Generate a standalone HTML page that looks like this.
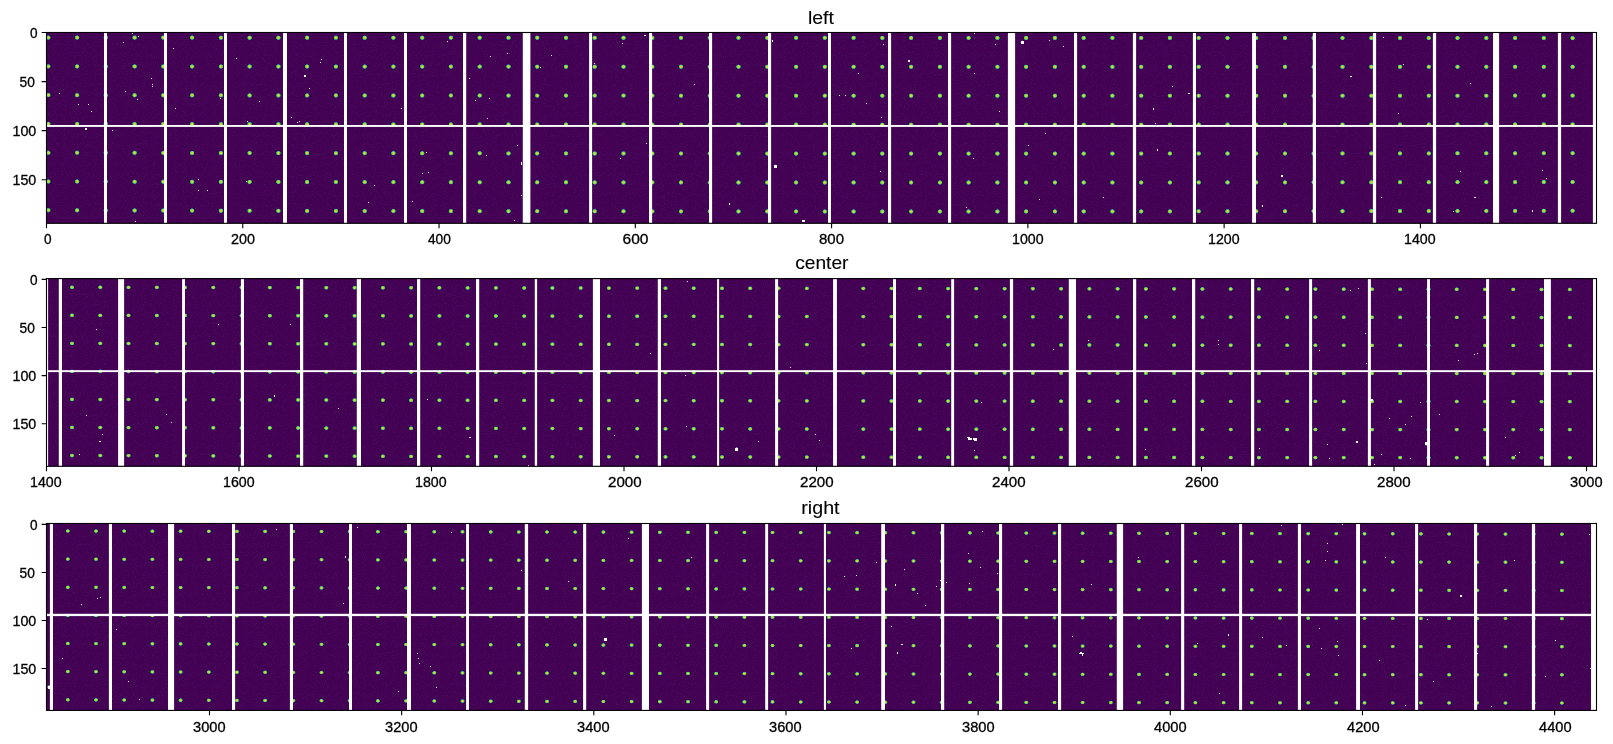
<!DOCTYPE html>
<html><head><meta charset="utf-8"><title>left center right</title>
<style>html,body{margin:0;padding:0;background:#fff;width:1613px;height:744px;overflow:hidden}svg{display:block;will-change:transform}</style>
</head><body>
<svg width="1613" height="744" viewBox="0 0 1613 744">
<defs>
<radialGradient id="dot" cx="0.5" cy="0.5" r="0.5">
<stop offset="0" stop-color="#dfe318"/>
<stop offset="0.35" stop-color="#c2df23"/>
<stop offset="0.6" stop-color="#6ccd5a"/>
<stop offset="0.8" stop-color="#1f9e89"/>
<stop offset="0.92" stop-color="#31688e" stop-opacity="0.7"/>
<stop offset="1" stop-color="#440154" stop-opacity="0"/>
</radialGradient>
<radialGradient id="blob" cx="0.5" cy="0.5" r="0.5">
<stop offset="0" stop-color="#ffffff"/>
<stop offset="0.45" stop-color="#ffffff"/>
<stop offset="0.7" stop-color="#9fd5e8"/>
<stop offset="1" stop-color="#3b528b" stop-opacity="0"/>
</radialGradient>
<filter id="nz" x="0" y="0" width="100%" height="100%" filterUnits="objectBoundingBox" color-interpolation-filters="sRGB">
<feTurbulence type="fractalNoise" baseFrequency="0.9" numOctaves="1" seed="7" result="t"/>
<feColorMatrix in="t" type="matrix" values="0 0 0 0 0.28  0 0 0 0 0.16  0 0 0 0 0.47  1.5 0 0 0 -0.8"/>
</filter>
</defs>
<rect width="1613" height="744" fill="#fff"/>
<rect x="46.5" y="32.5" width="1550.00" height="190.80" fill="#440154"/>
<rect x="46.5" y="32.5" width="1550.00" height="190.80" fill="#000" filter="url(#nz)"/>
<g fill="url(#dot)"><ellipse cx="48.3" cy="37.6" rx="2.6" ry="2.5"/><ellipse cx="77.1" cy="37.6" rx="2.6" ry="2.5"/><ellipse cx="105.8" cy="37.6" rx="2.6" ry="2.5"/><ellipse cx="134.6" cy="37.6" rx="2.6" ry="2.5"/><ellipse cx="163.3" cy="37.6" rx="2.6" ry="2.5"/><ellipse cx="192.1" cy="37.6" rx="2.6" ry="2.5"/><ellipse cx="220.9" cy="37.7" rx="2.6" ry="2.5"/><ellipse cx="249.6" cy="37.7" rx="2.6" ry="2.5"/><ellipse cx="278.4" cy="37.7" rx="2.6" ry="2.5"/><ellipse cx="307.1" cy="37.7" rx="2.6" ry="2.5"/><ellipse cx="335.9" cy="37.7" rx="2.6" ry="2.5"/><ellipse cx="364.7" cy="37.7" rx="2.6" ry="2.5"/><ellipse cx="393.4" cy="37.7" rx="2.6" ry="2.5"/><ellipse cx="422.2" cy="37.7" rx="2.6" ry="2.5"/><ellipse cx="450.9" cy="37.7" rx="2.6" ry="2.5"/><ellipse cx="479.7" cy="37.7" rx="2.6" ry="2.5"/><ellipse cx="508.5" cy="37.7" rx="2.6" ry="2.5"/><ellipse cx="537.2" cy="37.7" rx="2.6" ry="2.5"/><ellipse cx="566.0" cy="37.8" rx="2.6" ry="2.5"/><ellipse cx="594.7" cy="37.8" rx="2.6" ry="2.5"/><ellipse cx="623.5" cy="37.8" rx="2.6" ry="2.5"/><ellipse cx="652.3" cy="37.8" rx="2.6" ry="2.5"/><ellipse cx="681.0" cy="37.8" rx="2.6" ry="2.5"/><ellipse cx="709.8" cy="37.8" rx="2.6" ry="2.5"/><ellipse cx="738.5" cy="37.8" rx="2.6" ry="2.5"/><ellipse cx="767.3" cy="37.8" rx="2.6" ry="2.5"/><ellipse cx="796.1" cy="37.8" rx="2.6" ry="2.5"/><ellipse cx="824.8" cy="37.8" rx="2.6" ry="2.5"/><ellipse cx="853.6" cy="37.8" rx="2.6" ry="2.5"/><ellipse cx="882.3" cy="37.9" rx="2.6" ry="2.5"/><ellipse cx="911.1" cy="37.9" rx="2.6" ry="2.5"/><ellipse cx="939.9" cy="37.9" rx="2.6" ry="2.5"/><ellipse cx="968.6" cy="37.9" rx="2.6" ry="2.5"/><ellipse cx="997.4" cy="37.9" rx="2.6" ry="2.5"/><ellipse cx="1026.1" cy="37.9" rx="2.6" ry="2.5"/><ellipse cx="1054.9" cy="37.9" rx="2.6" ry="2.5"/><ellipse cx="1083.7" cy="37.9" rx="2.6" ry="2.5"/><ellipse cx="1112.4" cy="37.9" rx="2.6" ry="2.5"/><ellipse cx="1141.2" cy="37.9" rx="2.6" ry="2.5"/><ellipse cx="1169.9" cy="37.9" rx="2.6" ry="2.5"/><ellipse cx="1198.7" cy="37.9" rx="2.6" ry="2.5"/><ellipse cx="1227.5" cy="38.0" rx="2.6" ry="2.5"/><ellipse cx="1256.2" cy="38.0" rx="2.6" ry="2.5"/><ellipse cx="1285.0" cy="38.0" rx="2.6" ry="2.5"/><ellipse cx="1313.7" cy="38.0" rx="2.6" ry="2.5"/><ellipse cx="1342.5" cy="38.0" rx="2.6" ry="2.5"/><ellipse cx="1371.3" cy="38.0" rx="2.6" ry="2.5"/><ellipse cx="1400.0" cy="38.0" rx="2.6" ry="2.5"/><ellipse cx="1428.8" cy="38.0" rx="2.6" ry="2.5"/><ellipse cx="1457.5" cy="38.0" rx="2.6" ry="2.5"/><ellipse cx="1486.3" cy="38.0" rx="2.6" ry="2.5"/><ellipse cx="1515.1" cy="38.0" rx="2.6" ry="2.5"/><ellipse cx="1543.8" cy="38.0" rx="2.6" ry="2.5"/><ellipse cx="1572.6" cy="38.1" rx="2.6" ry="2.5"/><ellipse cx="48.3" cy="66.4" rx="2.6" ry="2.5"/><ellipse cx="77.1" cy="66.4" rx="2.6" ry="2.5"/><ellipse cx="105.8" cy="66.4" rx="2.6" ry="2.5"/><ellipse cx="134.6" cy="66.4" rx="2.6" ry="2.5"/><ellipse cx="163.3" cy="66.5" rx="2.6" ry="2.5"/><ellipse cx="192.1" cy="66.5" rx="2.6" ry="2.5"/><ellipse cx="220.9" cy="66.5" rx="2.6" ry="2.5"/><ellipse cx="249.6" cy="66.5" rx="2.6" ry="2.5"/><ellipse cx="278.4" cy="66.5" rx="2.6" ry="2.5"/><ellipse cx="307.1" cy="66.5" rx="2.6" ry="2.5"/><ellipse cx="335.9" cy="66.6" rx="2.6" ry="2.5"/><ellipse cx="364.7" cy="66.6" rx="2.6" ry="2.5"/><ellipse cx="393.4" cy="66.6" rx="2.6" ry="2.5"/><ellipse cx="422.2" cy="66.6" rx="2.6" ry="2.5"/><ellipse cx="450.9" cy="66.6" rx="2.6" ry="2.5"/><ellipse cx="479.7" cy="66.6" rx="2.6" ry="2.5"/><ellipse cx="508.5" cy="66.6" rx="2.6" ry="2.5"/><ellipse cx="537.2" cy="66.7" rx="2.6" ry="2.5"/><ellipse cx="566.0" cy="66.7" rx="2.6" ry="2.5"/><ellipse cx="594.7" cy="66.7" rx="2.6" ry="2.5"/><ellipse cx="623.5" cy="66.7" rx="2.6" ry="2.5"/><ellipse cx="652.3" cy="66.7" rx="2.6" ry="2.5"/><ellipse cx="681.0" cy="66.7" rx="2.6" ry="2.5"/><ellipse cx="709.8" cy="66.7" rx="2.6" ry="2.5"/><ellipse cx="738.5" cy="66.7" rx="2.6" ry="2.5"/><ellipse cx="767.3" cy="66.8" rx="2.6" ry="2.5"/><ellipse cx="796.1" cy="66.8" rx="2.6" ry="2.5"/><ellipse cx="824.8" cy="66.8" rx="2.6" ry="2.5"/><ellipse cx="853.6" cy="66.8" rx="2.6" ry="2.5"/><ellipse cx="882.3" cy="66.8" rx="2.6" ry="2.5"/><ellipse cx="911.1" cy="66.8" rx="2.6" ry="2.5"/><ellipse cx="939.9" cy="66.8" rx="2.6" ry="2.5"/><ellipse cx="968.6" cy="66.8" rx="2.6" ry="2.5"/><ellipse cx="997.4" cy="66.8" rx="2.6" ry="2.5"/><ellipse cx="1026.1" cy="66.8" rx="2.6" ry="2.5"/><ellipse cx="1054.9" cy="66.8" rx="2.6" ry="2.5"/><ellipse cx="1083.7" cy="66.8" rx="2.6" ry="2.5"/><ellipse cx="1112.4" cy="66.8" rx="2.6" ry="2.5"/><ellipse cx="1141.2" cy="66.8" rx="2.6" ry="2.5"/><ellipse cx="1169.9" cy="66.8" rx="2.6" ry="2.5"/><ellipse cx="1198.7" cy="66.8" rx="2.6" ry="2.5"/><ellipse cx="1227.5" cy="66.8" rx="2.6" ry="2.5"/><ellipse cx="1256.2" cy="66.8" rx="2.6" ry="2.5"/><ellipse cx="1285.0" cy="66.8" rx="2.6" ry="2.5"/><ellipse cx="1313.7" cy="66.8" rx="2.6" ry="2.5"/><ellipse cx="1342.5" cy="66.8" rx="2.6" ry="2.5"/><ellipse cx="1371.3" cy="66.8" rx="2.6" ry="2.5"/><ellipse cx="1400.0" cy="66.8" rx="2.6" ry="2.5"/><ellipse cx="1428.8" cy="66.8" rx="2.6" ry="2.5"/><ellipse cx="1457.5" cy="66.8" rx="2.6" ry="2.5"/><ellipse cx="1486.3" cy="66.8" rx="2.6" ry="2.5"/><ellipse cx="1515.1" cy="66.8" rx="2.6" ry="2.5"/><ellipse cx="1543.8" cy="66.8" rx="2.6" ry="2.5"/><ellipse cx="1572.6" cy="66.8" rx="2.6" ry="2.5"/><ellipse cx="48.3" cy="95.1" rx="2.6" ry="2.5"/><ellipse cx="77.1" cy="95.2" rx="2.6" ry="2.5"/><ellipse cx="105.8" cy="95.2" rx="2.6" ry="2.5"/><ellipse cx="134.6" cy="95.2" rx="2.6" ry="2.5"/><ellipse cx="163.3" cy="95.3" rx="2.6" ry="2.5"/><ellipse cx="192.1" cy="95.3" rx="2.6" ry="2.5"/><ellipse cx="220.9" cy="95.3" rx="2.6" ry="2.5"/><ellipse cx="249.6" cy="95.4" rx="2.6" ry="2.5"/><ellipse cx="278.4" cy="95.4" rx="2.6" ry="2.5"/><ellipse cx="307.1" cy="95.4" rx="2.6" ry="2.5"/><ellipse cx="335.9" cy="95.4" rx="2.6" ry="2.5"/><ellipse cx="364.7" cy="95.5" rx="2.6" ry="2.5"/><ellipse cx="393.4" cy="95.5" rx="2.6" ry="2.5"/><ellipse cx="422.2" cy="95.5" rx="2.6" ry="2.5"/><ellipse cx="450.9" cy="95.5" rx="2.6" ry="2.5"/><ellipse cx="479.7" cy="95.5" rx="2.6" ry="2.5"/><ellipse cx="508.5" cy="95.6" rx="2.6" ry="2.5"/><ellipse cx="537.2" cy="95.6" rx="2.6" ry="2.5"/><ellipse cx="566.0" cy="95.6" rx="2.6" ry="2.5"/><ellipse cx="594.7" cy="95.6" rx="2.6" ry="2.5"/><ellipse cx="623.5" cy="95.6" rx="2.6" ry="2.5"/><ellipse cx="652.3" cy="95.6" rx="2.6" ry="2.5"/><ellipse cx="681.0" cy="95.7" rx="2.6" ry="2.5"/><ellipse cx="709.8" cy="95.7" rx="2.6" ry="2.5"/><ellipse cx="738.5" cy="95.7" rx="2.6" ry="2.5"/><ellipse cx="767.3" cy="95.7" rx="2.6" ry="2.5"/><ellipse cx="796.1" cy="95.7" rx="2.6" ry="2.5"/><ellipse cx="824.8" cy="95.7" rx="2.6" ry="2.5"/><ellipse cx="853.6" cy="95.7" rx="2.6" ry="2.5"/><ellipse cx="882.3" cy="95.7" rx="2.6" ry="2.5"/><ellipse cx="911.1" cy="95.7" rx="2.6" ry="2.5"/><ellipse cx="939.9" cy="95.7" rx="2.6" ry="2.5"/><ellipse cx="968.6" cy="95.7" rx="2.6" ry="2.5"/><ellipse cx="997.4" cy="95.7" rx="2.6" ry="2.5"/><ellipse cx="1026.1" cy="95.7" rx="2.6" ry="2.5"/><ellipse cx="1054.9" cy="95.7" rx="2.6" ry="2.5"/><ellipse cx="1083.7" cy="95.7" rx="2.6" ry="2.5"/><ellipse cx="1112.4" cy="95.7" rx="2.6" ry="2.5"/><ellipse cx="1141.2" cy="95.7" rx="2.6" ry="2.5"/><ellipse cx="1169.9" cy="95.7" rx="2.6" ry="2.5"/><ellipse cx="1198.7" cy="95.7" rx="2.6" ry="2.5"/><ellipse cx="1227.5" cy="95.7" rx="2.6" ry="2.5"/><ellipse cx="1256.2" cy="95.7" rx="2.6" ry="2.5"/><ellipse cx="1285.0" cy="95.7" rx="2.6" ry="2.5"/><ellipse cx="1313.7" cy="95.7" rx="2.6" ry="2.5"/><ellipse cx="1342.5" cy="95.7" rx="2.6" ry="2.5"/><ellipse cx="1371.3" cy="95.7" rx="2.6" ry="2.5"/><ellipse cx="1400.0" cy="95.7" rx="2.6" ry="2.5"/><ellipse cx="1428.8" cy="95.7" rx="2.6" ry="2.5"/><ellipse cx="1457.5" cy="95.7" rx="2.6" ry="2.5"/><ellipse cx="1486.3" cy="95.7" rx="2.6" ry="2.5"/><ellipse cx="1515.1" cy="95.6" rx="2.6" ry="2.5"/><ellipse cx="1543.8" cy="95.6" rx="2.6" ry="2.5"/><ellipse cx="1572.6" cy="95.6" rx="2.6" ry="2.5"/><ellipse cx="48.3" cy="123.9" rx="2.6" ry="2.5"/><ellipse cx="77.1" cy="124.0" rx="2.6" ry="2.5"/><ellipse cx="105.8" cy="124.0" rx="2.6" ry="2.5"/><ellipse cx="134.6" cy="124.0" rx="2.6" ry="2.5"/><ellipse cx="163.3" cy="124.1" rx="2.6" ry="2.5"/><ellipse cx="192.1" cy="124.1" rx="2.6" ry="2.5"/><ellipse cx="220.9" cy="124.2" rx="2.6" ry="2.5"/><ellipse cx="249.6" cy="124.2" rx="2.6" ry="2.5"/><ellipse cx="278.4" cy="124.2" rx="2.6" ry="2.5"/><ellipse cx="307.1" cy="124.3" rx="2.6" ry="2.5"/><ellipse cx="335.9" cy="124.3" rx="2.6" ry="2.5"/><ellipse cx="364.7" cy="124.3" rx="2.6" ry="2.5"/><ellipse cx="393.4" cy="124.4" rx="2.6" ry="2.5"/><ellipse cx="422.2" cy="124.4" rx="2.6" ry="2.5"/><ellipse cx="450.9" cy="124.4" rx="2.6" ry="2.5"/><ellipse cx="479.7" cy="124.4" rx="2.6" ry="2.5"/><ellipse cx="508.5" cy="124.5" rx="2.6" ry="2.5"/><ellipse cx="537.2" cy="124.5" rx="2.6" ry="2.5"/><ellipse cx="566.0" cy="124.5" rx="2.6" ry="2.5"/><ellipse cx="594.7" cy="124.5" rx="2.6" ry="2.5"/><ellipse cx="623.5" cy="124.5" rx="2.6" ry="2.5"/><ellipse cx="652.3" cy="124.6" rx="2.6" ry="2.5"/><ellipse cx="681.0" cy="124.6" rx="2.6" ry="2.5"/><ellipse cx="709.8" cy="124.6" rx="2.6" ry="2.5"/><ellipse cx="738.5" cy="124.6" rx="2.6" ry="2.5"/><ellipse cx="767.3" cy="124.6" rx="2.6" ry="2.5"/><ellipse cx="796.1" cy="124.6" rx="2.6" ry="2.5"/><ellipse cx="824.8" cy="124.6" rx="2.6" ry="2.5"/><ellipse cx="853.6" cy="124.7" rx="2.6" ry="2.5"/><ellipse cx="882.3" cy="124.7" rx="2.6" ry="2.5"/><ellipse cx="911.1" cy="124.7" rx="2.6" ry="2.5"/><ellipse cx="939.9" cy="124.7" rx="2.6" ry="2.5"/><ellipse cx="968.6" cy="124.7" rx="2.6" ry="2.5"/><ellipse cx="997.4" cy="124.7" rx="2.6" ry="2.5"/><ellipse cx="1026.1" cy="124.7" rx="2.6" ry="2.5"/><ellipse cx="1054.9" cy="124.7" rx="2.6" ry="2.5"/><ellipse cx="1083.7" cy="124.7" rx="2.6" ry="2.5"/><ellipse cx="1112.4" cy="124.7" rx="2.6" ry="2.5"/><ellipse cx="1141.2" cy="124.7" rx="2.6" ry="2.5"/><ellipse cx="1169.9" cy="124.6" rx="2.6" ry="2.5"/><ellipse cx="1198.7" cy="124.6" rx="2.6" ry="2.5"/><ellipse cx="1227.5" cy="124.6" rx="2.6" ry="2.5"/><ellipse cx="1256.2" cy="124.6" rx="2.6" ry="2.5"/><ellipse cx="1285.0" cy="124.6" rx="2.6" ry="2.5"/><ellipse cx="1313.7" cy="124.6" rx="2.6" ry="2.5"/><ellipse cx="1342.5" cy="124.6" rx="2.6" ry="2.5"/><ellipse cx="1371.3" cy="124.6" rx="2.6" ry="2.5"/><ellipse cx="1400.0" cy="124.5" rx="2.6" ry="2.5"/><ellipse cx="1428.8" cy="124.5" rx="2.6" ry="2.5"/><ellipse cx="1457.5" cy="124.5" rx="2.6" ry="2.5"/><ellipse cx="1486.3" cy="124.5" rx="2.6" ry="2.5"/><ellipse cx="1515.1" cy="124.4" rx="2.6" ry="2.5"/><ellipse cx="1543.8" cy="124.4" rx="2.6" ry="2.5"/><ellipse cx="1572.6" cy="124.4" rx="2.6" ry="2.5"/><ellipse cx="48.3" cy="152.7" rx="2.6" ry="2.5"/><ellipse cx="77.1" cy="152.7" rx="2.6" ry="2.5"/><ellipse cx="105.8" cy="152.8" rx="2.6" ry="2.5"/><ellipse cx="134.6" cy="152.8" rx="2.6" ry="2.5"/><ellipse cx="163.3" cy="152.9" rx="2.6" ry="2.5"/><ellipse cx="192.1" cy="153.0" rx="2.6" ry="2.5"/><ellipse cx="220.9" cy="153.0" rx="2.6" ry="2.5"/><ellipse cx="249.6" cy="153.0" rx="2.6" ry="2.5"/><ellipse cx="278.4" cy="153.1" rx="2.6" ry="2.5"/><ellipse cx="307.1" cy="153.1" rx="2.6" ry="2.5"/><ellipse cx="335.9" cy="153.2" rx="2.6" ry="2.5"/><ellipse cx="364.7" cy="153.2" rx="2.6" ry="2.5"/><ellipse cx="393.4" cy="153.2" rx="2.6" ry="2.5"/><ellipse cx="422.2" cy="153.3" rx="2.6" ry="2.5"/><ellipse cx="450.9" cy="153.3" rx="2.6" ry="2.5"/><ellipse cx="479.7" cy="153.3" rx="2.6" ry="2.5"/><ellipse cx="508.5" cy="153.4" rx="2.6" ry="2.5"/><ellipse cx="537.2" cy="153.4" rx="2.6" ry="2.5"/><ellipse cx="566.0" cy="153.4" rx="2.6" ry="2.5"/><ellipse cx="594.7" cy="153.5" rx="2.6" ry="2.5"/><ellipse cx="623.5" cy="153.5" rx="2.6" ry="2.5"/><ellipse cx="652.3" cy="153.5" rx="2.6" ry="2.5"/><ellipse cx="681.0" cy="153.5" rx="2.6" ry="2.5"/><ellipse cx="709.8" cy="153.5" rx="2.6" ry="2.5"/><ellipse cx="738.5" cy="153.5" rx="2.6" ry="2.5"/><ellipse cx="767.3" cy="153.6" rx="2.6" ry="2.5"/><ellipse cx="796.1" cy="153.6" rx="2.6" ry="2.5"/><ellipse cx="824.8" cy="153.6" rx="2.6" ry="2.5"/><ellipse cx="853.6" cy="153.6" rx="2.6" ry="2.5"/><ellipse cx="882.3" cy="153.6" rx="2.6" ry="2.5"/><ellipse cx="911.1" cy="153.6" rx="2.6" ry="2.5"/><ellipse cx="939.9" cy="153.6" rx="2.6" ry="2.5"/><ellipse cx="968.6" cy="153.6" rx="2.6" ry="2.5"/><ellipse cx="997.4" cy="153.6" rx="2.6" ry="2.5"/><ellipse cx="1026.1" cy="153.6" rx="2.6" ry="2.5"/><ellipse cx="1054.9" cy="153.6" rx="2.6" ry="2.5"/><ellipse cx="1083.7" cy="153.6" rx="2.6" ry="2.5"/><ellipse cx="1112.4" cy="153.6" rx="2.6" ry="2.5"/><ellipse cx="1141.2" cy="153.6" rx="2.6" ry="2.5"/><ellipse cx="1169.9" cy="153.5" rx="2.6" ry="2.5"/><ellipse cx="1198.7" cy="153.5" rx="2.6" ry="2.5"/><ellipse cx="1227.5" cy="153.5" rx="2.6" ry="2.5"/><ellipse cx="1256.2" cy="153.5" rx="2.6" ry="2.5"/><ellipse cx="1285.0" cy="153.5" rx="2.6" ry="2.5"/><ellipse cx="1313.7" cy="153.5" rx="2.6" ry="2.5"/><ellipse cx="1342.5" cy="153.4" rx="2.6" ry="2.5"/><ellipse cx="1371.3" cy="153.4" rx="2.6" ry="2.5"/><ellipse cx="1400.0" cy="153.4" rx="2.6" ry="2.5"/><ellipse cx="1428.8" cy="153.4" rx="2.6" ry="2.5"/><ellipse cx="1457.5" cy="153.3" rx="2.6" ry="2.5"/><ellipse cx="1486.3" cy="153.3" rx="2.6" ry="2.5"/><ellipse cx="1515.1" cy="153.3" rx="2.6" ry="2.5"/><ellipse cx="1543.8" cy="153.2" rx="2.6" ry="2.5"/><ellipse cx="1572.6" cy="153.2" rx="2.6" ry="2.5"/><ellipse cx="48.3" cy="181.5" rx="2.6" ry="2.5"/><ellipse cx="77.1" cy="181.5" rx="2.6" ry="2.5"/><ellipse cx="105.8" cy="181.6" rx="2.6" ry="2.5"/><ellipse cx="134.6" cy="181.7" rx="2.6" ry="2.5"/><ellipse cx="163.3" cy="181.7" rx="2.6" ry="2.5"/><ellipse cx="192.1" cy="181.8" rx="2.6" ry="2.5"/><ellipse cx="220.9" cy="181.8" rx="2.6" ry="2.5"/><ellipse cx="249.6" cy="181.9" rx="2.6" ry="2.5"/><ellipse cx="278.4" cy="181.9" rx="2.6" ry="2.5"/><ellipse cx="307.1" cy="182.0" rx="2.6" ry="2.5"/><ellipse cx="335.9" cy="182.0" rx="2.6" ry="2.5"/><ellipse cx="364.7" cy="182.1" rx="2.6" ry="2.5"/><ellipse cx="393.4" cy="182.1" rx="2.6" ry="2.5"/><ellipse cx="422.2" cy="182.2" rx="2.6" ry="2.5"/><ellipse cx="450.9" cy="182.2" rx="2.6" ry="2.5"/><ellipse cx="479.7" cy="182.3" rx="2.6" ry="2.5"/><ellipse cx="508.5" cy="182.3" rx="2.6" ry="2.5"/><ellipse cx="537.2" cy="182.3" rx="2.6" ry="2.5"/><ellipse cx="566.0" cy="182.3" rx="2.6" ry="2.5"/><ellipse cx="594.7" cy="182.4" rx="2.6" ry="2.5"/><ellipse cx="623.5" cy="182.4" rx="2.6" ry="2.5"/><ellipse cx="652.3" cy="182.4" rx="2.6" ry="2.5"/><ellipse cx="681.0" cy="182.4" rx="2.6" ry="2.5"/><ellipse cx="709.8" cy="182.5" rx="2.6" ry="2.5"/><ellipse cx="738.5" cy="182.5" rx="2.6" ry="2.5"/><ellipse cx="767.3" cy="182.5" rx="2.6" ry="2.5"/><ellipse cx="796.1" cy="182.5" rx="2.6" ry="2.5"/><ellipse cx="824.8" cy="182.5" rx="2.6" ry="2.5"/><ellipse cx="853.6" cy="182.5" rx="2.6" ry="2.5"/><ellipse cx="882.3" cy="182.5" rx="2.6" ry="2.5"/><ellipse cx="911.1" cy="182.5" rx="2.6" ry="2.5"/><ellipse cx="939.9" cy="182.5" rx="2.6" ry="2.5"/><ellipse cx="968.6" cy="182.5" rx="2.6" ry="2.5"/><ellipse cx="997.4" cy="182.5" rx="2.6" ry="2.5"/><ellipse cx="1026.1" cy="182.5" rx="2.6" ry="2.5"/><ellipse cx="1054.9" cy="182.5" rx="2.6" ry="2.5"/><ellipse cx="1083.7" cy="182.5" rx="2.6" ry="2.5"/><ellipse cx="1112.4" cy="182.5" rx="2.6" ry="2.5"/><ellipse cx="1141.2" cy="182.5" rx="2.6" ry="2.5"/><ellipse cx="1169.9" cy="182.5" rx="2.6" ry="2.5"/><ellipse cx="1198.7" cy="182.4" rx="2.6" ry="2.5"/><ellipse cx="1227.5" cy="182.4" rx="2.6" ry="2.5"/><ellipse cx="1256.2" cy="182.4" rx="2.6" ry="2.5"/><ellipse cx="1285.0" cy="182.4" rx="2.6" ry="2.5"/><ellipse cx="1313.7" cy="182.3" rx="2.6" ry="2.5"/><ellipse cx="1342.5" cy="182.3" rx="2.6" ry="2.5"/><ellipse cx="1371.3" cy="182.3" rx="2.6" ry="2.5"/><ellipse cx="1400.0" cy="182.2" rx="2.6" ry="2.5"/><ellipse cx="1428.8" cy="182.2" rx="2.6" ry="2.5"/><ellipse cx="1457.5" cy="182.1" rx="2.6" ry="2.5"/><ellipse cx="1486.3" cy="182.1" rx="2.6" ry="2.5"/><ellipse cx="1515.1" cy="182.1" rx="2.6" ry="2.5"/><ellipse cx="1543.8" cy="182.0" rx="2.6" ry="2.5"/><ellipse cx="1572.6" cy="182.0" rx="2.6" ry="2.5"/><ellipse cx="48.3" cy="210.2" rx="2.6" ry="2.5"/><ellipse cx="77.1" cy="210.3" rx="2.6" ry="2.5"/><ellipse cx="105.8" cy="210.4" rx="2.6" ry="2.5"/><ellipse cx="134.6" cy="210.5" rx="2.6" ry="2.5"/><ellipse cx="163.3" cy="210.5" rx="2.6" ry="2.5"/><ellipse cx="192.1" cy="210.6" rx="2.6" ry="2.5"/><ellipse cx="220.9" cy="210.7" rx="2.6" ry="2.5"/><ellipse cx="249.6" cy="210.7" rx="2.6" ry="2.5"/><ellipse cx="278.4" cy="210.8" rx="2.6" ry="2.5"/><ellipse cx="307.1" cy="210.9" rx="2.6" ry="2.5"/><ellipse cx="335.9" cy="210.9" rx="2.6" ry="2.5"/><ellipse cx="364.7" cy="211.0" rx="2.6" ry="2.5"/><ellipse cx="393.4" cy="211.0" rx="2.6" ry="2.5"/><ellipse cx="422.2" cy="211.1" rx="2.6" ry="2.5"/><ellipse cx="450.9" cy="211.1" rx="2.6" ry="2.5"/><ellipse cx="479.7" cy="211.2" rx="2.6" ry="2.5"/><ellipse cx="508.5" cy="211.2" rx="2.6" ry="2.5"/><ellipse cx="537.2" cy="211.2" rx="2.6" ry="2.5"/><ellipse cx="566.0" cy="211.3" rx="2.6" ry="2.5"/><ellipse cx="594.7" cy="211.3" rx="2.6" ry="2.5"/><ellipse cx="623.5" cy="211.3" rx="2.6" ry="2.5"/><ellipse cx="652.3" cy="211.4" rx="2.6" ry="2.5"/><ellipse cx="681.0" cy="211.4" rx="2.6" ry="2.5"/><ellipse cx="709.8" cy="211.4" rx="2.6" ry="2.5"/><ellipse cx="738.5" cy="211.4" rx="2.6" ry="2.5"/><ellipse cx="767.3" cy="211.4" rx="2.6" ry="2.5"/><ellipse cx="796.1" cy="211.4" rx="2.6" ry="2.5"/><ellipse cx="824.8" cy="211.5" rx="2.6" ry="2.5"/><ellipse cx="853.6" cy="211.5" rx="2.6" ry="2.5"/><ellipse cx="882.3" cy="211.5" rx="2.6" ry="2.5"/><ellipse cx="911.1" cy="211.5" rx="2.6" ry="2.5"/><ellipse cx="939.9" cy="211.5" rx="2.6" ry="2.5"/><ellipse cx="968.6" cy="211.5" rx="2.6" ry="2.5"/><ellipse cx="997.4" cy="211.5" rx="2.6" ry="2.5"/><ellipse cx="1026.1" cy="211.4" rx="2.6" ry="2.5"/><ellipse cx="1054.9" cy="211.4" rx="2.6" ry="2.5"/><ellipse cx="1083.7" cy="211.4" rx="2.6" ry="2.5"/><ellipse cx="1112.4" cy="211.4" rx="2.6" ry="2.5"/><ellipse cx="1141.2" cy="211.4" rx="2.6" ry="2.5"/><ellipse cx="1169.9" cy="211.4" rx="2.6" ry="2.5"/><ellipse cx="1198.7" cy="211.3" rx="2.6" ry="2.5"/><ellipse cx="1227.5" cy="211.3" rx="2.6" ry="2.5"/><ellipse cx="1256.2" cy="211.3" rx="2.6" ry="2.5"/><ellipse cx="1285.0" cy="211.2" rx="2.6" ry="2.5"/><ellipse cx="1313.7" cy="211.2" rx="2.6" ry="2.5"/><ellipse cx="1342.5" cy="211.2" rx="2.6" ry="2.5"/><ellipse cx="1371.3" cy="211.1" rx="2.6" ry="2.5"/><ellipse cx="1400.0" cy="211.1" rx="2.6" ry="2.5"/><ellipse cx="1428.8" cy="211.0" rx="2.6" ry="2.5"/><ellipse cx="1457.5" cy="211.0" rx="2.6" ry="2.5"/><ellipse cx="1486.3" cy="210.9" rx="2.6" ry="2.5"/><ellipse cx="1515.1" cy="210.9" rx="2.6" ry="2.5"/><ellipse cx="1543.8" cy="210.8" rx="2.6" ry="2.5"/><ellipse cx="1572.6" cy="210.7" rx="2.6" ry="2.5"/></g>
<g fill="#fff"><rect x="59" y="93" width="1" height="1"/><rect x="78" y="104" width="1" height="1"/><rect x="88" y="104" width="1" height="1"/><rect x="91" y="111" width="1" height="1"/><rect x="85" y="128" width="2" height="2"/><rect x="112" y="130" width="1" height="1"/><rect x="123" y="42" width="1" height="1"/><rect x="132" y="33" width="1" height="1"/><rect x="138" y="36" width="1" height="1"/><rect x="125" y="91" width="1" height="1"/><rect x="137" y="99" width="1" height="1"/><rect x="151" y="78" width="1" height="1"/><rect x="152" y="84" width="1" height="1"/><rect x="152" y="86" width="1" height="1"/><rect x="173" y="48" width="1" height="1"/><rect x="175" y="108" width="1" height="1"/><rect x="220" y="98" width="1" height="1"/><rect x="236" y="58" width="1" height="1"/><rect x="259" y="101" width="1" height="1"/><rect x="247" y="121" width="1" height="1"/><rect x="198" y="179" width="1" height="1"/><rect x="198" y="190" width="1" height="1"/><rect x="207" y="190" width="1" height="1"/><rect x="246" y="181" width="1" height="1"/><rect x="135" y="221" width="1" height="1"/><rect x="304" y="75" width="2" height="2"/><rect x="309" y="88" width="1" height="1"/><rect x="321" y="59" width="1" height="1"/><rect x="320" y="62" width="1" height="1"/><rect x="291" y="117" width="1" height="1"/><rect x="297" y="122" width="1" height="1"/><rect x="299" y="121" width="1" height="1"/><rect x="401" y="108" width="1" height="1"/><rect x="426" y="152" width="1" height="1"/><rect x="422" y="173" width="1" height="1"/><rect x="428" y="172" width="1" height="1"/><rect x="374" y="185" width="1" height="1"/><rect x="368" y="202" width="1" height="1"/><rect x="412" y="201" width="1" height="1"/><rect x="447" y="41" width="1" height="1"/><rect x="490" y="56" width="1" height="1"/><rect x="507" y="53" width="1" height="1"/><rect x="469" y="78" width="1" height="1"/><rect x="475" y="100" width="1" height="1"/><rect x="489" y="98" width="1" height="1"/><rect x="487" y="118" width="1" height="1"/><rect x="551" y="55" width="1" height="1"/><rect x="540" y="67" width="1" height="1"/><rect x="644" y="35" width="2" height="1"/><rect x="622" y="43" width="1" height="1"/><rect x="594" y="63" width="1" height="1"/><rect x="694" y="84" width="1" height="1"/><rect x="772" y="40" width="1" height="2"/><rect x="517" y="145" width="1" height="1"/><rect x="486" y="155" width="1" height="1"/><rect x="521" y="162" width="1" height="3"/><rect x="521" y="195" width="1" height="1"/><rect x="514" y="220" width="1" height="1"/><rect x="646" y="143" width="1" height="1"/><rect x="620" y="158" width="1" height="1"/><rect x="729" y="203" width="1" height="2"/><circle cx="775.4" cy="166.2" r="2.0" fill="url(#blob)"/><rect x="774" y="165" width="3" height="3"/><rect x="802" y="220" width="3" height="2"/><rect x="883" y="44" width="1" height="1"/><rect x="858" y="73" width="1" height="1"/><rect x="839" y="95" width="1" height="1"/><rect x="845" y="95" width="1" height="1"/><rect x="866" y="103" width="1" height="1"/><rect x="881" y="117" width="1" height="1"/><rect x="908" y="60" width="2" height="2"/><rect x="974" y="33" width="1" height="1"/><rect x="995" y="44" width="1" height="1"/><rect x="974" y="73" width="1" height="1"/><rect x="999" y="111" width="1" height="1"/><circle cx="1022.2" cy="42.2" r="2.0" fill="url(#blob)"/><rect x="1021" y="41" width="3" height="3"/><rect x="1049" y="40" width="1" height="1"/><rect x="1063" y="46" width="1" height="1"/><rect x="1172" y="86" width="1" height="1"/><rect x="1188" y="93" width="2" height="1"/><rect x="1153" y="108" width="1" height="2"/><rect x="1155" y="123" width="1" height="1"/><rect x="1045" y="133" width="1" height="1"/><rect x="1028" y="145" width="1" height="1"/><rect x="880" y="171" width="1" height="1"/><rect x="973" y="158" width="1" height="1"/><rect x="966" y="207" width="1" height="1"/><rect x="1039" y="199" width="1" height="1"/><rect x="1103" y="197" width="1" height="1"/><rect x="1157" y="149" width="1" height="2"/><rect x="1383" y="37" width="1" height="1"/><rect x="1403" y="64" width="1" height="1"/><rect x="1350" y="76" width="2" height="1"/><rect x="1398" y="113" width="1" height="1"/><rect x="1470" y="83" width="1" height="1"/><rect x="1281" y="175" width="2" height="2"/><rect x="1262" y="205" width="1" height="2"/><rect x="1381" y="197" width="1" height="1"/><rect x="1460" y="171" width="1" height="1"/><rect x="1474" y="197" width="2" height="1"/><rect x="1453" y="211" width="1" height="1"/><rect x="1542" y="170" width="1" height="1"/><rect x="1546" y="178" width="1" height="1"/><rect x="1532" y="210" width="1" height="2"/></g>
<g fill="#fff"><rect x="104.0" y="32.5" width="3.0" height="190.8"/><rect x="164.0" y="32.5" width="3.0" height="190.8"/><rect x="224.0" y="32.5" width="3.0" height="190.8"/><rect x="283.0" y="32.5" width="4.0" height="190.8"/><rect x="344.0" y="32.5" width="3.0" height="190.8"/><rect x="404.0" y="32.5" width="3.0" height="190.8"/><rect x="463.0" y="32.5" width="3.2" height="190.8"/><rect x="522.8" y="32.5" width="7.6" height="190.8"/><rect x="589.1" y="32.5" width="3.0" height="190.8"/><rect x="649.0" y="32.5" width="3.1" height="190.8"/><rect x="709.0" y="32.5" width="3.1" height="190.8"/><rect x="768.0" y="32.5" width="3.1" height="190.8"/><rect x="828.0" y="32.5" width="3.0" height="190.8"/><rect x="888.0" y="32.5" width="3.1" height="190.8"/><rect x="948.0" y="32.5" width="3.1" height="190.8"/><rect x="1007.9" y="32.5" width="7.2" height="190.8"/><rect x="1074.0" y="32.5" width="3.1" height="190.8"/><rect x="1132.9" y="32.5" width="3.2" height="190.8"/><rect x="1192.9" y="32.5" width="3.1" height="190.8"/><rect x="1252.1" y="32.5" width="3.9" height="190.8"/><rect x="1312.8" y="32.5" width="3.2" height="190.8"/><rect x="1372.9" y="32.5" width="3.2" height="190.8"/><rect x="1432.9" y="32.5" width="3.2" height="190.8"/><rect x="1493.0" y="32.5" width="6.1" height="190.8"/><rect x="1557.9" y="32.5" width="3.2" height="190.8"/><rect x="1592.9" y="32.5" width="3.6" height="190.8"/><rect x="46.5" y="125.0" width="1550.0" height="1.9"/></g>
<rect x="46.5" y="32.5" width="1550.0" height="190.8" fill="none" stroke="#000" stroke-width="1.11"/>
<path d="M46.50 223.3v4.86M242.77 223.3v4.86M439.04 223.3v4.86M635.32 223.3v4.86M831.59 223.3v4.86M1027.86 223.3v4.86M1224.13 223.3v4.86M1420.40 223.3v4.86M46.5 32.50h-4.86M46.5 81.57h-4.86M46.5 130.64h-4.86M46.5 179.70h-4.86" stroke="#000" stroke-width="1.11" fill="none"/>
<g font-family="Liberation Sans, sans-serif" fill="#000" stroke="#000" stroke-width="0.3"><text x="44.00" y="244.00" font-size="14.10" textLength="7.56" lengthAdjust="spacingAndGlyphs">0</text><text x="231.00" y="244.00" font-size="14.10" textLength="23.93" lengthAdjust="spacingAndGlyphs">200</text><text x="428.00" y="244.00" font-size="14.10" textLength="22.85" lengthAdjust="spacingAndGlyphs">400</text><text x="622.50" y="244.00" font-size="14.10" textLength="25.96" lengthAdjust="spacingAndGlyphs">600</text><text x="819.00" y="244.00" font-size="14.10" textLength="25.00" lengthAdjust="spacingAndGlyphs">800</text><text x="1012.00" y="244.00" font-size="14.10" textLength="31.58" lengthAdjust="spacingAndGlyphs">1000</text><text x="1208.00" y="244.00" font-size="14.10" textLength="31.58" lengthAdjust="spacingAndGlyphs">1200</text><text x="1404.00" y="244.00" font-size="14.10" textLength="31.58" lengthAdjust="spacingAndGlyphs">1400</text><text x="30.00" y="38.00" font-size="14.10" textLength="7.56" lengthAdjust="spacingAndGlyphs">0</text><text x="19.50" y="87.00" font-size="14.10" textLength="15.32" lengthAdjust="spacingAndGlyphs">50</text><text x="12.50" y="136.00" font-size="14.10" textLength="23.81" lengthAdjust="spacingAndGlyphs">100</text><text x="12.50" y="185.00" font-size="14.10" textLength="23.81" lengthAdjust="spacingAndGlyphs">150</text></g>
<text x="807.90" y="24.00" textLength="26.00" lengthAdjust="spacingAndGlyphs" font-family="Liberation Sans, sans-serif" font-size="17.70" fill="#000" stroke="#000" stroke-width="0.1">left</text>
<rect x="46.5" y="278.6" width="1550.00" height="187.70" fill="#440154"/>
<rect x="46.5" y="278.6" width="1550.00" height="187.70" fill="#000" filter="url(#nz)"/>
<g fill="url(#dot)"><ellipse cx="72.0" cy="287.3" rx="2.5" ry="2.2"/><ellipse cx="100.3" cy="287.3" rx="2.5" ry="2.2"/><ellipse cx="128.5" cy="287.4" rx="2.5" ry="2.2"/><ellipse cx="156.8" cy="287.4" rx="2.5" ry="2.2"/><ellipse cx="185.0" cy="287.5" rx="2.5" ry="2.2"/><ellipse cx="213.3" cy="287.5" rx="2.5" ry="2.2"/><ellipse cx="241.6" cy="287.5" rx="2.5" ry="2.2"/><ellipse cx="269.8" cy="287.6" rx="2.5" ry="2.2"/><ellipse cx="298.1" cy="287.6" rx="2.5" ry="2.2"/><ellipse cx="326.3" cy="287.7" rx="2.5" ry="2.2"/><ellipse cx="354.6" cy="287.7" rx="2.5" ry="2.2"/><ellipse cx="382.9" cy="287.8" rx="2.5" ry="2.2"/><ellipse cx="411.1" cy="287.8" rx="2.5" ry="2.2"/><ellipse cx="439.4" cy="287.8" rx="2.5" ry="2.2"/><ellipse cx="467.6" cy="287.9" rx="2.5" ry="2.2"/><ellipse cx="495.9" cy="287.9" rx="2.5" ry="2.2"/><ellipse cx="524.2" cy="288.0" rx="2.5" ry="2.2"/><ellipse cx="552.4" cy="288.0" rx="2.5" ry="2.2"/><ellipse cx="580.7" cy="288.0" rx="2.5" ry="2.2"/><ellipse cx="608.9" cy="288.1" rx="2.5" ry="2.2"/><ellipse cx="637.2" cy="288.1" rx="2.5" ry="2.2"/><ellipse cx="665.5" cy="288.2" rx="2.5" ry="2.2"/><ellipse cx="693.7" cy="288.2" rx="2.5" ry="2.2"/><ellipse cx="722.0" cy="288.3" rx="2.5" ry="2.2"/><ellipse cx="750.2" cy="288.3" rx="2.5" ry="2.2"/><ellipse cx="778.5" cy="288.3" rx="2.5" ry="2.2"/><ellipse cx="806.8" cy="288.4" rx="2.5" ry="2.2"/><ellipse cx="835.0" cy="288.4" rx="2.5" ry="2.2"/><ellipse cx="863.3" cy="288.5" rx="2.5" ry="2.2"/><ellipse cx="891.5" cy="288.5" rx="2.5" ry="2.2"/><ellipse cx="919.8" cy="288.5" rx="2.5" ry="2.2"/><ellipse cx="948.1" cy="288.6" rx="2.5" ry="2.2"/><ellipse cx="976.3" cy="288.6" rx="2.5" ry="2.2"/><ellipse cx="1004.6" cy="288.7" rx="2.5" ry="2.2"/><ellipse cx="1032.8" cy="288.7" rx="2.5" ry="2.2"/><ellipse cx="1061.1" cy="288.8" rx="2.5" ry="2.2"/><ellipse cx="1089.4" cy="288.8" rx="2.5" ry="2.2"/><ellipse cx="1117.6" cy="288.8" rx="2.5" ry="2.2"/><ellipse cx="1145.9" cy="288.9" rx="2.5" ry="2.2"/><ellipse cx="1174.1" cy="288.9" rx="2.5" ry="2.2"/><ellipse cx="1202.4" cy="289.0" rx="2.5" ry="2.2"/><ellipse cx="1230.7" cy="289.0" rx="2.5" ry="2.2"/><ellipse cx="1258.9" cy="289.0" rx="2.5" ry="2.2"/><ellipse cx="1287.2" cy="289.1" rx="2.5" ry="2.2"/><ellipse cx="1315.4" cy="289.1" rx="2.5" ry="2.2"/><ellipse cx="1343.7" cy="289.2" rx="2.5" ry="2.2"/><ellipse cx="1372.0" cy="289.2" rx="2.5" ry="2.2"/><ellipse cx="1400.2" cy="289.3" rx="2.5" ry="2.2"/><ellipse cx="1428.5" cy="289.3" rx="2.5" ry="2.2"/><ellipse cx="1456.7" cy="289.3" rx="2.5" ry="2.2"/><ellipse cx="1485.0" cy="289.4" rx="2.5" ry="2.2"/><ellipse cx="1513.3" cy="289.4" rx="2.5" ry="2.2"/><ellipse cx="1541.5" cy="289.5" rx="2.5" ry="2.2"/><ellipse cx="1569.8" cy="289.5" rx="2.5" ry="2.2"/><ellipse cx="72.0" cy="315.3" rx="2.5" ry="2.2"/><ellipse cx="100.3" cy="315.4" rx="2.5" ry="2.2"/><ellipse cx="128.5" cy="315.4" rx="2.5" ry="2.2"/><ellipse cx="156.8" cy="315.5" rx="2.5" ry="2.2"/><ellipse cx="185.0" cy="315.5" rx="2.5" ry="2.2"/><ellipse cx="213.3" cy="315.6" rx="2.5" ry="2.2"/><ellipse cx="241.6" cy="315.6" rx="2.5" ry="2.2"/><ellipse cx="269.8" cy="315.7" rx="2.5" ry="2.2"/><ellipse cx="298.1" cy="315.7" rx="2.5" ry="2.2"/><ellipse cx="326.3" cy="315.8" rx="2.5" ry="2.2"/><ellipse cx="354.6" cy="315.8" rx="2.5" ry="2.2"/><ellipse cx="382.9" cy="315.8" rx="2.5" ry="2.2"/><ellipse cx="411.1" cy="315.9" rx="2.5" ry="2.2"/><ellipse cx="439.4" cy="315.9" rx="2.5" ry="2.2"/><ellipse cx="467.6" cy="316.0" rx="2.5" ry="2.2"/><ellipse cx="495.9" cy="316.0" rx="2.5" ry="2.2"/><ellipse cx="524.2" cy="316.1" rx="2.5" ry="2.2"/><ellipse cx="552.4" cy="316.1" rx="2.5" ry="2.2"/><ellipse cx="580.7" cy="316.2" rx="2.5" ry="2.2"/><ellipse cx="608.9" cy="316.2" rx="2.5" ry="2.2"/><ellipse cx="637.2" cy="316.2" rx="2.5" ry="2.2"/><ellipse cx="665.5" cy="316.3" rx="2.5" ry="2.2"/><ellipse cx="693.7" cy="316.3" rx="2.5" ry="2.2"/><ellipse cx="722.0" cy="316.4" rx="2.5" ry="2.2"/><ellipse cx="750.2" cy="316.4" rx="2.5" ry="2.2"/><ellipse cx="778.5" cy="316.5" rx="2.5" ry="2.2"/><ellipse cx="806.8" cy="316.5" rx="2.5" ry="2.2"/><ellipse cx="835.0" cy="316.5" rx="2.5" ry="2.2"/><ellipse cx="863.3" cy="316.6" rx="2.5" ry="2.2"/><ellipse cx="891.5" cy="316.6" rx="2.5" ry="2.2"/><ellipse cx="919.8" cy="316.7" rx="2.5" ry="2.2"/><ellipse cx="948.1" cy="316.7" rx="2.5" ry="2.2"/><ellipse cx="976.3" cy="316.7" rx="2.5" ry="2.2"/><ellipse cx="1004.6" cy="316.8" rx="2.5" ry="2.2"/><ellipse cx="1032.8" cy="316.8" rx="2.5" ry="2.2"/><ellipse cx="1061.1" cy="316.9" rx="2.5" ry="2.2"/><ellipse cx="1089.4" cy="316.9" rx="2.5" ry="2.2"/><ellipse cx="1117.6" cy="316.9" rx="2.5" ry="2.2"/><ellipse cx="1145.9" cy="317.0" rx="2.5" ry="2.2"/><ellipse cx="1174.1" cy="317.0" rx="2.5" ry="2.2"/><ellipse cx="1202.4" cy="317.1" rx="2.5" ry="2.2"/><ellipse cx="1230.7" cy="317.1" rx="2.5" ry="2.2"/><ellipse cx="1258.9" cy="317.1" rx="2.5" ry="2.2"/><ellipse cx="1287.2" cy="317.2" rx="2.5" ry="2.2"/><ellipse cx="1315.4" cy="317.2" rx="2.5" ry="2.2"/><ellipse cx="1343.7" cy="317.2" rx="2.5" ry="2.2"/><ellipse cx="1372.0" cy="317.3" rx="2.5" ry="2.2"/><ellipse cx="1400.2" cy="317.3" rx="2.5" ry="2.2"/><ellipse cx="1428.5" cy="317.4" rx="2.5" ry="2.2"/><ellipse cx="1456.7" cy="317.4" rx="2.5" ry="2.2"/><ellipse cx="1485.0" cy="317.4" rx="2.5" ry="2.2"/><ellipse cx="1513.3" cy="317.5" rx="2.5" ry="2.2"/><ellipse cx="1541.5" cy="317.5" rx="2.5" ry="2.2"/><ellipse cx="1569.8" cy="317.5" rx="2.5" ry="2.2"/><ellipse cx="72.0" cy="343.4" rx="2.5" ry="2.2"/><ellipse cx="100.3" cy="343.4" rx="2.5" ry="2.2"/><ellipse cx="128.5" cy="343.5" rx="2.5" ry="2.2"/><ellipse cx="156.8" cy="343.5" rx="2.5" ry="2.2"/><ellipse cx="185.0" cy="343.6" rx="2.5" ry="2.2"/><ellipse cx="213.3" cy="343.6" rx="2.5" ry="2.2"/><ellipse cx="241.6" cy="343.7" rx="2.5" ry="2.2"/><ellipse cx="269.8" cy="343.7" rx="2.5" ry="2.2"/><ellipse cx="298.1" cy="343.8" rx="2.5" ry="2.2"/><ellipse cx="326.3" cy="343.8" rx="2.5" ry="2.2"/><ellipse cx="354.6" cy="343.9" rx="2.5" ry="2.2"/><ellipse cx="382.9" cy="343.9" rx="2.5" ry="2.2"/><ellipse cx="411.1" cy="344.0" rx="2.5" ry="2.2"/><ellipse cx="439.4" cy="344.0" rx="2.5" ry="2.2"/><ellipse cx="467.6" cy="344.1" rx="2.5" ry="2.2"/><ellipse cx="495.9" cy="344.1" rx="2.5" ry="2.2"/><ellipse cx="524.2" cy="344.2" rx="2.5" ry="2.2"/><ellipse cx="552.4" cy="344.2" rx="2.5" ry="2.2"/><ellipse cx="580.7" cy="344.3" rx="2.5" ry="2.2"/><ellipse cx="608.9" cy="344.3" rx="2.5" ry="2.2"/><ellipse cx="637.2" cy="344.4" rx="2.5" ry="2.2"/><ellipse cx="665.5" cy="344.4" rx="2.5" ry="2.2"/><ellipse cx="693.7" cy="344.4" rx="2.5" ry="2.2"/><ellipse cx="722.0" cy="344.5" rx="2.5" ry="2.2"/><ellipse cx="750.2" cy="344.5" rx="2.5" ry="2.2"/><ellipse cx="778.5" cy="344.6" rx="2.5" ry="2.2"/><ellipse cx="806.8" cy="344.6" rx="2.5" ry="2.2"/><ellipse cx="835.0" cy="344.7" rx="2.5" ry="2.2"/><ellipse cx="863.3" cy="344.7" rx="2.5" ry="2.2"/><ellipse cx="891.5" cy="344.7" rx="2.5" ry="2.2"/><ellipse cx="919.8" cy="344.8" rx="2.5" ry="2.2"/><ellipse cx="948.1" cy="344.8" rx="2.5" ry="2.2"/><ellipse cx="976.3" cy="344.9" rx="2.5" ry="2.2"/><ellipse cx="1004.6" cy="344.9" rx="2.5" ry="2.2"/><ellipse cx="1032.8" cy="344.9" rx="2.5" ry="2.2"/><ellipse cx="1061.1" cy="345.0" rx="2.5" ry="2.2"/><ellipse cx="1089.4" cy="345.0" rx="2.5" ry="2.2"/><ellipse cx="1117.6" cy="345.0" rx="2.5" ry="2.2"/><ellipse cx="1145.9" cy="345.1" rx="2.5" ry="2.2"/><ellipse cx="1174.1" cy="345.1" rx="2.5" ry="2.2"/><ellipse cx="1202.4" cy="345.2" rx="2.5" ry="2.2"/><ellipse cx="1230.7" cy="345.2" rx="2.5" ry="2.2"/><ellipse cx="1258.9" cy="345.2" rx="2.5" ry="2.2"/><ellipse cx="1287.2" cy="345.3" rx="2.5" ry="2.2"/><ellipse cx="1315.4" cy="345.3" rx="2.5" ry="2.2"/><ellipse cx="1343.7" cy="345.3" rx="2.5" ry="2.2"/><ellipse cx="1372.0" cy="345.4" rx="2.5" ry="2.2"/><ellipse cx="1400.2" cy="345.4" rx="2.5" ry="2.2"/><ellipse cx="1428.5" cy="345.4" rx="2.5" ry="2.2"/><ellipse cx="1456.7" cy="345.4" rx="2.5" ry="2.2"/><ellipse cx="1485.0" cy="345.5" rx="2.5" ry="2.2"/><ellipse cx="1513.3" cy="345.5" rx="2.5" ry="2.2"/><ellipse cx="1541.5" cy="345.5" rx="2.5" ry="2.2"/><ellipse cx="1569.8" cy="345.6" rx="2.5" ry="2.2"/><ellipse cx="72.0" cy="371.4" rx="2.5" ry="2.2"/><ellipse cx="100.3" cy="371.4" rx="2.5" ry="2.2"/><ellipse cx="128.5" cy="371.5" rx="2.5" ry="2.2"/><ellipse cx="156.8" cy="371.6" rx="2.5" ry="2.2"/><ellipse cx="185.0" cy="371.6" rx="2.5" ry="2.2"/><ellipse cx="213.3" cy="371.7" rx="2.5" ry="2.2"/><ellipse cx="241.6" cy="371.7" rx="2.5" ry="2.2"/><ellipse cx="269.8" cy="371.8" rx="2.5" ry="2.2"/><ellipse cx="298.1" cy="371.9" rx="2.5" ry="2.2"/><ellipse cx="326.3" cy="371.9" rx="2.5" ry="2.2"/><ellipse cx="354.6" cy="372.0" rx="2.5" ry="2.2"/><ellipse cx="382.9" cy="372.0" rx="2.5" ry="2.2"/><ellipse cx="411.1" cy="372.1" rx="2.5" ry="2.2"/><ellipse cx="439.4" cy="372.1" rx="2.5" ry="2.2"/><ellipse cx="467.6" cy="372.2" rx="2.5" ry="2.2"/><ellipse cx="495.9" cy="372.2" rx="2.5" ry="2.2"/><ellipse cx="524.2" cy="372.3" rx="2.5" ry="2.2"/><ellipse cx="552.4" cy="372.3" rx="2.5" ry="2.2"/><ellipse cx="580.7" cy="372.4" rx="2.5" ry="2.2"/><ellipse cx="608.9" cy="372.4" rx="2.5" ry="2.2"/><ellipse cx="637.2" cy="372.5" rx="2.5" ry="2.2"/><ellipse cx="665.5" cy="372.5" rx="2.5" ry="2.2"/><ellipse cx="693.7" cy="372.6" rx="2.5" ry="2.2"/><ellipse cx="722.0" cy="372.6" rx="2.5" ry="2.2"/><ellipse cx="750.2" cy="372.7" rx="2.5" ry="2.2"/><ellipse cx="778.5" cy="372.7" rx="2.5" ry="2.2"/><ellipse cx="806.8" cy="372.7" rx="2.5" ry="2.2"/><ellipse cx="835.0" cy="372.8" rx="2.5" ry="2.2"/><ellipse cx="863.3" cy="372.8" rx="2.5" ry="2.2"/><ellipse cx="891.5" cy="372.9" rx="2.5" ry="2.2"/><ellipse cx="919.8" cy="372.9" rx="2.5" ry="2.2"/><ellipse cx="948.1" cy="372.9" rx="2.5" ry="2.2"/><ellipse cx="976.3" cy="373.0" rx="2.5" ry="2.2"/><ellipse cx="1004.6" cy="373.0" rx="2.5" ry="2.2"/><ellipse cx="1032.8" cy="373.1" rx="2.5" ry="2.2"/><ellipse cx="1061.1" cy="373.1" rx="2.5" ry="2.2"/><ellipse cx="1089.4" cy="373.1" rx="2.5" ry="2.2"/><ellipse cx="1117.6" cy="373.2" rx="2.5" ry="2.2"/><ellipse cx="1145.9" cy="373.2" rx="2.5" ry="2.2"/><ellipse cx="1174.1" cy="373.2" rx="2.5" ry="2.2"/><ellipse cx="1202.4" cy="373.2" rx="2.5" ry="2.2"/><ellipse cx="1230.7" cy="373.3" rx="2.5" ry="2.2"/><ellipse cx="1258.9" cy="373.3" rx="2.5" ry="2.2"/><ellipse cx="1287.2" cy="373.3" rx="2.5" ry="2.2"/><ellipse cx="1315.4" cy="373.4" rx="2.5" ry="2.2"/><ellipse cx="1343.7" cy="373.4" rx="2.5" ry="2.2"/><ellipse cx="1372.0" cy="373.4" rx="2.5" ry="2.2"/><ellipse cx="1400.2" cy="373.4" rx="2.5" ry="2.2"/><ellipse cx="1428.5" cy="373.5" rx="2.5" ry="2.2"/><ellipse cx="1456.7" cy="373.5" rx="2.5" ry="2.2"/><ellipse cx="1485.0" cy="373.5" rx="2.5" ry="2.2"/><ellipse cx="1513.3" cy="373.5" rx="2.5" ry="2.2"/><ellipse cx="1541.5" cy="373.6" rx="2.5" ry="2.2"/><ellipse cx="1569.8" cy="373.6" rx="2.5" ry="2.2"/><ellipse cx="72.0" cy="399.4" rx="2.5" ry="2.2"/><ellipse cx="100.3" cy="399.5" rx="2.5" ry="2.2"/><ellipse cx="128.5" cy="399.5" rx="2.5" ry="2.2"/><ellipse cx="156.8" cy="399.6" rx="2.5" ry="2.2"/><ellipse cx="185.0" cy="399.7" rx="2.5" ry="2.2"/><ellipse cx="213.3" cy="399.7" rx="2.5" ry="2.2"/><ellipse cx="241.6" cy="399.8" rx="2.5" ry="2.2"/><ellipse cx="269.8" cy="399.9" rx="2.5" ry="2.2"/><ellipse cx="298.1" cy="399.9" rx="2.5" ry="2.2"/><ellipse cx="326.3" cy="400.0" rx="2.5" ry="2.2"/><ellipse cx="354.6" cy="400.1" rx="2.5" ry="2.2"/><ellipse cx="382.9" cy="400.1" rx="2.5" ry="2.2"/><ellipse cx="411.1" cy="400.2" rx="2.5" ry="2.2"/><ellipse cx="439.4" cy="400.2" rx="2.5" ry="2.2"/><ellipse cx="467.6" cy="400.3" rx="2.5" ry="2.2"/><ellipse cx="495.9" cy="400.3" rx="2.5" ry="2.2"/><ellipse cx="524.2" cy="400.4" rx="2.5" ry="2.2"/><ellipse cx="552.4" cy="400.4" rx="2.5" ry="2.2"/><ellipse cx="580.7" cy="400.5" rx="2.5" ry="2.2"/><ellipse cx="608.9" cy="400.5" rx="2.5" ry="2.2"/><ellipse cx="637.2" cy="400.6" rx="2.5" ry="2.2"/><ellipse cx="665.5" cy="400.6" rx="2.5" ry="2.2"/><ellipse cx="693.7" cy="400.7" rx="2.5" ry="2.2"/><ellipse cx="722.0" cy="400.7" rx="2.5" ry="2.2"/><ellipse cx="750.2" cy="400.8" rx="2.5" ry="2.2"/><ellipse cx="778.5" cy="400.8" rx="2.5" ry="2.2"/><ellipse cx="806.8" cy="400.9" rx="2.5" ry="2.2"/><ellipse cx="835.0" cy="400.9" rx="2.5" ry="2.2"/><ellipse cx="863.3" cy="400.9" rx="2.5" ry="2.2"/><ellipse cx="891.5" cy="401.0" rx="2.5" ry="2.2"/><ellipse cx="919.8" cy="401.0" rx="2.5" ry="2.2"/><ellipse cx="948.1" cy="401.1" rx="2.5" ry="2.2"/><ellipse cx="976.3" cy="401.1" rx="2.5" ry="2.2"/><ellipse cx="1004.6" cy="401.1" rx="2.5" ry="2.2"/><ellipse cx="1032.8" cy="401.2" rx="2.5" ry="2.2"/><ellipse cx="1061.1" cy="401.2" rx="2.5" ry="2.2"/><ellipse cx="1089.4" cy="401.2" rx="2.5" ry="2.2"/><ellipse cx="1117.6" cy="401.3" rx="2.5" ry="2.2"/><ellipse cx="1145.9" cy="401.3" rx="2.5" ry="2.2"/><ellipse cx="1174.1" cy="401.3" rx="2.5" ry="2.2"/><ellipse cx="1202.4" cy="401.3" rx="2.5" ry="2.2"/><ellipse cx="1230.7" cy="401.4" rx="2.5" ry="2.2"/><ellipse cx="1258.9" cy="401.4" rx="2.5" ry="2.2"/><ellipse cx="1287.2" cy="401.4" rx="2.5" ry="2.2"/><ellipse cx="1315.4" cy="401.4" rx="2.5" ry="2.2"/><ellipse cx="1343.7" cy="401.5" rx="2.5" ry="2.2"/><ellipse cx="1372.0" cy="401.5" rx="2.5" ry="2.2"/><ellipse cx="1400.2" cy="401.5" rx="2.5" ry="2.2"/><ellipse cx="1428.5" cy="401.5" rx="2.5" ry="2.2"/><ellipse cx="1456.7" cy="401.5" rx="2.5" ry="2.2"/><ellipse cx="1485.0" cy="401.6" rx="2.5" ry="2.2"/><ellipse cx="1513.3" cy="401.6" rx="2.5" ry="2.2"/><ellipse cx="1541.5" cy="401.6" rx="2.5" ry="2.2"/><ellipse cx="1569.8" cy="401.6" rx="2.5" ry="2.2"/><ellipse cx="72.0" cy="427.4" rx="2.5" ry="2.2"/><ellipse cx="100.3" cy="427.5" rx="2.5" ry="2.2"/><ellipse cx="128.5" cy="427.6" rx="2.5" ry="2.2"/><ellipse cx="156.8" cy="427.7" rx="2.5" ry="2.2"/><ellipse cx="185.0" cy="427.7" rx="2.5" ry="2.2"/><ellipse cx="213.3" cy="427.8" rx="2.5" ry="2.2"/><ellipse cx="241.6" cy="427.9" rx="2.5" ry="2.2"/><ellipse cx="269.8" cy="427.9" rx="2.5" ry="2.2"/><ellipse cx="298.1" cy="428.0" rx="2.5" ry="2.2"/><ellipse cx="326.3" cy="428.1" rx="2.5" ry="2.2"/><ellipse cx="354.6" cy="428.1" rx="2.5" ry="2.2"/><ellipse cx="382.9" cy="428.2" rx="2.5" ry="2.2"/><ellipse cx="411.1" cy="428.3" rx="2.5" ry="2.2"/><ellipse cx="439.4" cy="428.3" rx="2.5" ry="2.2"/><ellipse cx="467.6" cy="428.4" rx="2.5" ry="2.2"/><ellipse cx="495.9" cy="428.4" rx="2.5" ry="2.2"/><ellipse cx="524.2" cy="428.5" rx="2.5" ry="2.2"/><ellipse cx="552.4" cy="428.5" rx="2.5" ry="2.2"/><ellipse cx="580.7" cy="428.6" rx="2.5" ry="2.2"/><ellipse cx="608.9" cy="428.7" rx="2.5" ry="2.2"/><ellipse cx="637.2" cy="428.7" rx="2.5" ry="2.2"/><ellipse cx="665.5" cy="428.8" rx="2.5" ry="2.2"/><ellipse cx="693.7" cy="428.8" rx="2.5" ry="2.2"/><ellipse cx="722.0" cy="428.8" rx="2.5" ry="2.2"/><ellipse cx="750.2" cy="428.9" rx="2.5" ry="2.2"/><ellipse cx="778.5" cy="428.9" rx="2.5" ry="2.2"/><ellipse cx="806.8" cy="429.0" rx="2.5" ry="2.2"/><ellipse cx="835.0" cy="429.0" rx="2.5" ry="2.2"/><ellipse cx="863.3" cy="429.1" rx="2.5" ry="2.2"/><ellipse cx="891.5" cy="429.1" rx="2.5" ry="2.2"/><ellipse cx="919.8" cy="429.1" rx="2.5" ry="2.2"/><ellipse cx="948.1" cy="429.2" rx="2.5" ry="2.2"/><ellipse cx="976.3" cy="429.2" rx="2.5" ry="2.2"/><ellipse cx="1004.6" cy="429.2" rx="2.5" ry="2.2"/><ellipse cx="1032.8" cy="429.3" rx="2.5" ry="2.2"/><ellipse cx="1061.1" cy="429.3" rx="2.5" ry="2.2"/><ellipse cx="1089.4" cy="429.3" rx="2.5" ry="2.2"/><ellipse cx="1117.6" cy="429.4" rx="2.5" ry="2.2"/><ellipse cx="1145.9" cy="429.4" rx="2.5" ry="2.2"/><ellipse cx="1174.1" cy="429.4" rx="2.5" ry="2.2"/><ellipse cx="1202.4" cy="429.4" rx="2.5" ry="2.2"/><ellipse cx="1230.7" cy="429.5" rx="2.5" ry="2.2"/><ellipse cx="1258.9" cy="429.5" rx="2.5" ry="2.2"/><ellipse cx="1287.2" cy="429.5" rx="2.5" ry="2.2"/><ellipse cx="1315.4" cy="429.5" rx="2.5" ry="2.2"/><ellipse cx="1343.7" cy="429.5" rx="2.5" ry="2.2"/><ellipse cx="1372.0" cy="429.6" rx="2.5" ry="2.2"/><ellipse cx="1400.2" cy="429.6" rx="2.5" ry="2.2"/><ellipse cx="1428.5" cy="429.6" rx="2.5" ry="2.2"/><ellipse cx="1456.7" cy="429.6" rx="2.5" ry="2.2"/><ellipse cx="1485.0" cy="429.6" rx="2.5" ry="2.2"/><ellipse cx="1513.3" cy="429.6" rx="2.5" ry="2.2"/><ellipse cx="1541.5" cy="429.6" rx="2.5" ry="2.2"/><ellipse cx="1569.8" cy="429.6" rx="2.5" ry="2.2"/><ellipse cx="72.0" cy="455.5" rx="2.5" ry="2.2"/><ellipse cx="100.3" cy="455.5" rx="2.5" ry="2.2"/><ellipse cx="128.5" cy="455.6" rx="2.5" ry="2.2"/><ellipse cx="156.8" cy="455.7" rx="2.5" ry="2.2"/><ellipse cx="185.0" cy="455.8" rx="2.5" ry="2.2"/><ellipse cx="213.3" cy="455.9" rx="2.5" ry="2.2"/><ellipse cx="241.6" cy="455.9" rx="2.5" ry="2.2"/><ellipse cx="269.8" cy="456.0" rx="2.5" ry="2.2"/><ellipse cx="298.1" cy="456.1" rx="2.5" ry="2.2"/><ellipse cx="326.3" cy="456.1" rx="2.5" ry="2.2"/><ellipse cx="354.6" cy="456.2" rx="2.5" ry="2.2"/><ellipse cx="382.9" cy="456.3" rx="2.5" ry="2.2"/><ellipse cx="411.1" cy="456.4" rx="2.5" ry="2.2"/><ellipse cx="439.4" cy="456.4" rx="2.5" ry="2.2"/><ellipse cx="467.6" cy="456.5" rx="2.5" ry="2.2"/><ellipse cx="495.9" cy="456.5" rx="2.5" ry="2.2"/><ellipse cx="524.2" cy="456.6" rx="2.5" ry="2.2"/><ellipse cx="552.4" cy="456.7" rx="2.5" ry="2.2"/><ellipse cx="580.7" cy="456.7" rx="2.5" ry="2.2"/><ellipse cx="608.9" cy="456.8" rx="2.5" ry="2.2"/><ellipse cx="637.2" cy="456.8" rx="2.5" ry="2.2"/><ellipse cx="665.5" cy="456.9" rx="2.5" ry="2.2"/><ellipse cx="693.7" cy="456.9" rx="2.5" ry="2.2"/><ellipse cx="722.0" cy="457.0" rx="2.5" ry="2.2"/><ellipse cx="750.2" cy="457.0" rx="2.5" ry="2.2"/><ellipse cx="778.5" cy="457.1" rx="2.5" ry="2.2"/><ellipse cx="806.8" cy="457.1" rx="2.5" ry="2.2"/><ellipse cx="835.0" cy="457.1" rx="2.5" ry="2.2"/><ellipse cx="863.3" cy="457.2" rx="2.5" ry="2.2"/><ellipse cx="891.5" cy="457.2" rx="2.5" ry="2.2"/><ellipse cx="919.8" cy="457.3" rx="2.5" ry="2.2"/><ellipse cx="948.1" cy="457.3" rx="2.5" ry="2.2"/><ellipse cx="976.3" cy="457.3" rx="2.5" ry="2.2"/><ellipse cx="1004.6" cy="457.4" rx="2.5" ry="2.2"/><ellipse cx="1032.8" cy="457.4" rx="2.5" ry="2.2"/><ellipse cx="1061.1" cy="457.4" rx="2.5" ry="2.2"/><ellipse cx="1089.4" cy="457.4" rx="2.5" ry="2.2"/><ellipse cx="1117.6" cy="457.5" rx="2.5" ry="2.2"/><ellipse cx="1145.9" cy="457.5" rx="2.5" ry="2.2"/><ellipse cx="1174.1" cy="457.5" rx="2.5" ry="2.2"/><ellipse cx="1202.4" cy="457.5" rx="2.5" ry="2.2"/><ellipse cx="1230.7" cy="457.6" rx="2.5" ry="2.2"/><ellipse cx="1258.9" cy="457.6" rx="2.5" ry="2.2"/><ellipse cx="1287.2" cy="457.6" rx="2.5" ry="2.2"/><ellipse cx="1315.4" cy="457.6" rx="2.5" ry="2.2"/><ellipse cx="1343.7" cy="457.6" rx="2.5" ry="2.2"/><ellipse cx="1372.0" cy="457.6" rx="2.5" ry="2.2"/><ellipse cx="1400.2" cy="457.6" rx="2.5" ry="2.2"/><ellipse cx="1428.5" cy="457.6" rx="2.5" ry="2.2"/><ellipse cx="1456.7" cy="457.7" rx="2.5" ry="2.2"/><ellipse cx="1485.0" cy="457.7" rx="2.5" ry="2.2"/><ellipse cx="1513.3" cy="457.7" rx="2.5" ry="2.2"/><ellipse cx="1541.5" cy="457.7" rx="2.5" ry="2.2"/><ellipse cx="1569.8" cy="457.7" rx="2.5" ry="2.2"/></g>
<g fill="#fff"><rect x="96" y="329" width="1" height="1"/><rect x="218" y="324" width="1" height="1"/><rect x="290" y="324" width="1" height="1"/><rect x="86" y="415" width="1" height="1"/><rect x="102" y="434" width="1" height="1"/><rect x="99" y="441" width="2" height="1"/><rect x="79" y="454" width="1" height="1"/><rect x="166" y="414" width="1" height="1"/><rect x="171" y="422" width="1" height="1"/><rect x="274" y="395" width="1" height="2"/><rect x="338" y="408" width="1" height="1"/><rect x="427" y="399" width="1" height="1"/><rect x="687" y="281" width="1" height="1"/><rect x="650" y="353" width="1" height="1"/><rect x="790" y="367" width="1" height="1"/><rect x="685" y="375" width="1" height="1"/><rect x="469" y="437" width="2" height="1"/><rect x="528" y="465" width="1" height="1"/><rect x="614" y="435" width="1" height="1"/><rect x="686" y="426" width="1" height="1"/><circle cx="736.7" cy="449.0" r="2.0" fill="url(#blob)"/><rect x="735" y="448" width="3" height="3"/><rect x="758" y="441" width="1" height="1"/><rect x="815" y="434" width="1" height="1"/><rect x="819" y="440" width="1" height="1"/><rect x="1053" y="349" width="1" height="1"/><rect x="1088" y="340" width="1" height="1"/><rect x="1218" y="340" width="1" height="1"/><rect x="1218" y="344" width="1" height="1"/><rect x="981" y="402" width="1" height="1"/><rect x="967" y="437" width="3" height="1"/><rect x="968" y="438" width="4" height="2"/><rect x="973" y="438" width="4" height="2"/><rect x="974" y="440" width="3" height="1"/><rect x="974" y="450" width="1" height="1"/><rect x="1145" y="449" width="1" height="1"/><rect x="1350" y="290" width="1" height="1"/><rect x="1358" y="288" width="1" height="1"/><rect x="1365" y="333" width="1" height="1"/><rect x="1319" y="350" width="1" height="1"/><rect x="1366" y="363" width="1" height="1"/><rect x="1474" y="354" width="1" height="1"/><rect x="1477" y="353" width="1" height="1"/><rect x="1458" y="360" width="1" height="1"/><rect x="1371" y="399" width="2" height="2"/><rect x="1420" y="402" width="1" height="1"/><rect x="1411" y="416" width="1" height="1"/><rect x="1389" y="418" width="1" height="1"/><rect x="1405" y="424" width="1" height="1"/><rect x="1439" y="414" width="1" height="1"/><rect x="1356" y="441" width="2" height="2"/><rect x="1327" y="444" width="1" height="1"/><rect x="1329" y="458" width="1" height="1"/><rect x="1259" y="448" width="1" height="1"/><rect x="1381" y="454" width="1" height="1"/><rect x="1410" y="458" width="1" height="1"/><rect x="1374" y="464" width="1" height="1"/><circle cx="1426.4" cy="443.9" r="2.0" fill="url(#blob)"/><rect x="1425" y="442" width="3" height="3"/><rect x="1505" y="437" width="1" height="1"/><rect x="1519" y="452" width="1" height="1"/><rect x="1515" y="455" width="1" height="1"/></g>
<g fill="#fff"><rect x="46.5" y="278.6" width="1.6" height="187.7"/><rect x="58.8" y="278.6" width="3.2" height="187.7"/><rect x="118.1" y="278.6" width="6.0" height="187.7"/><rect x="182.1" y="278.6" width="2.9" height="187.7"/><rect x="240.9" y="278.6" width="3.1" height="187.7"/><rect x="300.0" y="278.6" width="3.2" height="187.7"/><rect x="356.8" y="278.6" width="4.2" height="187.7"/><rect x="417.0" y="278.6" width="3.2" height="187.7"/><rect x="476.0" y="278.6" width="3.2" height="187.7"/><rect x="534.8" y="278.6" width="2.3" height="187.7"/><rect x="592.9" y="278.6" width="7.1" height="187.7"/><rect x="657.8" y="278.6" width="3.2" height="187.7"/><rect x="717.1" y="278.6" width="2.0" height="187.7"/><rect x="775.1" y="278.6" width="3.0" height="187.7"/><rect x="833.1" y="278.6" width="3.8" height="187.7"/><rect x="893.0" y="278.6" width="3.0" height="187.7"/><rect x="951.2" y="278.6" width="2.9" height="187.7"/><rect x="1009.9" y="278.6" width="3.2" height="187.7"/><rect x="1068.8" y="278.6" width="7.2" height="187.7"/><rect x="1133.0" y="278.6" width="3.2" height="187.7"/><rect x="1192.0" y="278.6" width="3.2" height="187.7"/><rect x="1251.0" y="278.6" width="3.2" height="187.7"/><rect x="1309.1" y="278.6" width="3.0" height="187.7"/><rect x="1367.9" y="278.6" width="3.0" height="187.7"/><rect x="1427.1" y="278.6" width="2.9" height="187.7"/><rect x="1486.1" y="278.6" width="3.0" height="187.7"/><rect x="1544.0" y="278.6" width="6.9" height="187.7"/><rect x="1593.0" y="278.6" width="3.5" height="187.7"/><rect x="46.5" y="370.2" width="1550.0" height="1.9"/></g>
<rect x="46.5" y="278.6" width="1550.0" height="187.7" fill="none" stroke="#000" stroke-width="1.11"/>
<path d="M46.50 466.3v4.86M239.00 466.3v4.86M431.50 466.3v4.86M624.00 466.3v4.86M816.50 466.3v4.86M1009.00 466.3v4.86M1201.50 466.3v4.86M1394.00 466.3v4.86M1586.50 466.3v4.86M46.5 279.40h-4.86M46.5 327.52h-4.86M46.5 375.65h-4.86M46.5 423.77h-4.86" stroke="#000" stroke-width="1.11" fill="none"/>
<g font-family="Liberation Sans, sans-serif" fill="#000" stroke="#000" stroke-width="0.3"><text x="30.00" y="487.00" font-size="14.10" textLength="31.58" lengthAdjust="spacingAndGlyphs">1400</text><text x="223.00" y="487.00" font-size="14.10" textLength="31.58" lengthAdjust="spacingAndGlyphs">1600</text><text x="415.00" y="487.00" font-size="14.10" textLength="31.58" lengthAdjust="spacingAndGlyphs">1800</text><text x="608.00" y="487.00" font-size="14.10" textLength="33.60" lengthAdjust="spacingAndGlyphs">2000</text><text x="800.00" y="487.00" font-size="14.10" textLength="33.60" lengthAdjust="spacingAndGlyphs">2200</text><text x="992.00" y="487.00" font-size="14.10" textLength="33.60" lengthAdjust="spacingAndGlyphs">2400</text><text x="1185.00" y="487.00" font-size="14.10" textLength="33.60" lengthAdjust="spacingAndGlyphs">2600</text><text x="1377.00" y="487.00" font-size="14.10" textLength="33.60" lengthAdjust="spacingAndGlyphs">2800</text><text x="1570.00" y="487.00" font-size="14.10" textLength="32.53" lengthAdjust="spacingAndGlyphs">3000</text><text x="30.00" y="285.00" font-size="14.10" textLength="7.56" lengthAdjust="spacingAndGlyphs">0</text><text x="19.50" y="333.00" font-size="14.10" textLength="15.32" lengthAdjust="spacingAndGlyphs">50</text><text x="12.50" y="381.00" font-size="14.10" textLength="23.81" lengthAdjust="spacingAndGlyphs">100</text><text x="12.50" y="429.00" font-size="14.10" textLength="23.81" lengthAdjust="spacingAndGlyphs">150</text></g>
<text x="795.20" y="269.40" textLength="53.33" lengthAdjust="spacingAndGlyphs" font-family="Liberation Sans, sans-serif" font-size="17.70" fill="#000" stroke="#000" stroke-width="0.1">center</text>
<rect x="46.5" y="523.5" width="1550.00" height="186.90" fill="#440154"/>
<rect x="46.5" y="523.5" width="1550.00" height="186.90" fill="#000" filter="url(#nz)"/>
<g fill="url(#dot)"><ellipse cx="67.8" cy="531.0" rx="2.4" ry="2.1"/><ellipse cx="96.0" cy="531.1" rx="2.4" ry="2.1"/><ellipse cx="124.2" cy="531.1" rx="2.4" ry="2.1"/><ellipse cx="152.4" cy="531.2" rx="2.4" ry="2.1"/><ellipse cx="180.6" cy="531.2" rx="2.4" ry="2.1"/><ellipse cx="208.8" cy="531.3" rx="2.4" ry="2.1"/><ellipse cx="236.9" cy="531.4" rx="2.4" ry="2.1"/><ellipse cx="265.1" cy="531.4" rx="2.4" ry="2.1"/><ellipse cx="293.3" cy="531.5" rx="2.4" ry="2.1"/><ellipse cx="321.5" cy="531.5" rx="2.4" ry="2.1"/><ellipse cx="349.7" cy="531.6" rx="2.4" ry="2.1"/><ellipse cx="377.9" cy="531.7" rx="2.4" ry="2.1"/><ellipse cx="406.1" cy="531.7" rx="2.4" ry="2.1"/><ellipse cx="434.3" cy="531.8" rx="2.4" ry="2.1"/><ellipse cx="462.5" cy="531.8" rx="2.4" ry="2.1"/><ellipse cx="490.7" cy="531.9" rx="2.4" ry="2.1"/><ellipse cx="518.8" cy="532.0" rx="2.4" ry="2.1"/><ellipse cx="547.0" cy="532.0" rx="2.4" ry="2.1"/><ellipse cx="575.2" cy="532.1" rx="2.4" ry="2.1"/><ellipse cx="603.4" cy="532.1" rx="2.4" ry="2.1"/><ellipse cx="631.6" cy="532.2" rx="2.4" ry="2.1"/><ellipse cx="659.8" cy="532.3" rx="2.4" ry="2.1"/><ellipse cx="688.0" cy="532.3" rx="2.4" ry="2.1"/><ellipse cx="716.2" cy="532.4" rx="2.4" ry="2.1"/><ellipse cx="744.4" cy="532.4" rx="2.4" ry="2.1"/><ellipse cx="772.5" cy="532.5" rx="2.4" ry="2.1"/><ellipse cx="800.7" cy="532.6" rx="2.4" ry="2.1"/><ellipse cx="828.9" cy="532.6" rx="2.4" ry="2.1"/><ellipse cx="857.1" cy="532.7" rx="2.4" ry="2.1"/><ellipse cx="885.3" cy="532.7" rx="2.4" ry="2.1"/><ellipse cx="913.5" cy="532.8" rx="2.4" ry="2.1"/><ellipse cx="941.7" cy="532.9" rx="2.4" ry="2.1"/><ellipse cx="969.9" cy="532.9" rx="2.4" ry="2.1"/><ellipse cx="998.1" cy="533.0" rx="2.4" ry="2.1"/><ellipse cx="1026.3" cy="533.1" rx="2.4" ry="2.1"/><ellipse cx="1054.5" cy="533.1" rx="2.4" ry="2.1"/><ellipse cx="1082.6" cy="533.2" rx="2.4" ry="2.1"/><ellipse cx="1110.8" cy="533.2" rx="2.4" ry="2.1"/><ellipse cx="1139.0" cy="533.3" rx="2.4" ry="2.1"/><ellipse cx="1167.2" cy="533.4" rx="2.4" ry="2.1"/><ellipse cx="1195.4" cy="533.4" rx="2.4" ry="2.1"/><ellipse cx="1223.6" cy="533.5" rx="2.4" ry="2.1"/><ellipse cx="1251.8" cy="533.5" rx="2.4" ry="2.1"/><ellipse cx="1280.0" cy="533.6" rx="2.4" ry="2.1"/><ellipse cx="1308.2" cy="533.7" rx="2.4" ry="2.1"/><ellipse cx="1336.3" cy="533.7" rx="2.4" ry="2.1"/><ellipse cx="1364.5" cy="533.8" rx="2.4" ry="2.1"/><ellipse cx="1392.7" cy="533.8" rx="2.4" ry="2.1"/><ellipse cx="1420.9" cy="533.9" rx="2.4" ry="2.1"/><ellipse cx="1449.1" cy="534.0" rx="2.4" ry="2.1"/><ellipse cx="1477.3" cy="534.0" rx="2.4" ry="2.1"/><ellipse cx="1505.5" cy="534.1" rx="2.4" ry="2.1"/><ellipse cx="1533.7" cy="534.1" rx="2.4" ry="2.1"/><ellipse cx="1561.9" cy="534.2" rx="2.4" ry="2.1"/><ellipse cx="67.8" cy="559.1" rx="2.4" ry="2.1"/><ellipse cx="96.0" cy="559.2" rx="2.4" ry="2.1"/><ellipse cx="124.2" cy="559.3" rx="2.4" ry="2.1"/><ellipse cx="152.4" cy="559.3" rx="2.4" ry="2.1"/><ellipse cx="180.6" cy="559.4" rx="2.4" ry="2.1"/><ellipse cx="208.8" cy="559.5" rx="2.4" ry="2.1"/><ellipse cx="236.9" cy="559.5" rx="2.4" ry="2.1"/><ellipse cx="265.1" cy="559.6" rx="2.4" ry="2.1"/><ellipse cx="293.3" cy="559.7" rx="2.4" ry="2.1"/><ellipse cx="321.5" cy="559.7" rx="2.4" ry="2.1"/><ellipse cx="349.7" cy="559.8" rx="2.4" ry="2.1"/><ellipse cx="377.9" cy="559.9" rx="2.4" ry="2.1"/><ellipse cx="406.1" cy="559.9" rx="2.4" ry="2.1"/><ellipse cx="434.3" cy="560.0" rx="2.4" ry="2.1"/><ellipse cx="462.5" cy="560.1" rx="2.4" ry="2.1"/><ellipse cx="490.7" cy="560.1" rx="2.4" ry="2.1"/><ellipse cx="518.8" cy="560.2" rx="2.4" ry="2.1"/><ellipse cx="547.0" cy="560.2" rx="2.4" ry="2.1"/><ellipse cx="575.2" cy="560.3" rx="2.4" ry="2.1"/><ellipse cx="603.4" cy="560.4" rx="2.4" ry="2.1"/><ellipse cx="631.6" cy="560.4" rx="2.4" ry="2.1"/><ellipse cx="659.8" cy="560.5" rx="2.4" ry="2.1"/><ellipse cx="688.0" cy="560.6" rx="2.4" ry="2.1"/><ellipse cx="716.2" cy="560.6" rx="2.4" ry="2.1"/><ellipse cx="744.4" cy="560.7" rx="2.4" ry="2.1"/><ellipse cx="772.5" cy="560.7" rx="2.4" ry="2.1"/><ellipse cx="800.7" cy="560.8" rx="2.4" ry="2.1"/><ellipse cx="828.9" cy="560.9" rx="2.4" ry="2.1"/><ellipse cx="857.1" cy="560.9" rx="2.4" ry="2.1"/><ellipse cx="885.3" cy="561.0" rx="2.4" ry="2.1"/><ellipse cx="913.5" cy="561.0" rx="2.4" ry="2.1"/><ellipse cx="941.7" cy="561.1" rx="2.4" ry="2.1"/><ellipse cx="969.9" cy="561.2" rx="2.4" ry="2.1"/><ellipse cx="998.1" cy="561.2" rx="2.4" ry="2.1"/><ellipse cx="1026.3" cy="561.3" rx="2.4" ry="2.1"/><ellipse cx="1054.5" cy="561.3" rx="2.4" ry="2.1"/><ellipse cx="1082.6" cy="561.4" rx="2.4" ry="2.1"/><ellipse cx="1110.8" cy="561.5" rx="2.4" ry="2.1"/><ellipse cx="1139.0" cy="561.5" rx="2.4" ry="2.1"/><ellipse cx="1167.2" cy="561.6" rx="2.4" ry="2.1"/><ellipse cx="1195.4" cy="561.6" rx="2.4" ry="2.1"/><ellipse cx="1223.6" cy="561.7" rx="2.4" ry="2.1"/><ellipse cx="1251.8" cy="561.7" rx="2.4" ry="2.1"/><ellipse cx="1280.0" cy="561.8" rx="2.4" ry="2.1"/><ellipse cx="1308.2" cy="561.8" rx="2.4" ry="2.1"/><ellipse cx="1336.3" cy="561.9" rx="2.4" ry="2.1"/><ellipse cx="1364.5" cy="562.0" rx="2.4" ry="2.1"/><ellipse cx="1392.7" cy="562.0" rx="2.4" ry="2.1"/><ellipse cx="1420.9" cy="562.1" rx="2.4" ry="2.1"/><ellipse cx="1449.1" cy="562.1" rx="2.4" ry="2.1"/><ellipse cx="1477.3" cy="562.2" rx="2.4" ry="2.1"/><ellipse cx="1505.5" cy="562.2" rx="2.4" ry="2.1"/><ellipse cx="1533.7" cy="562.3" rx="2.4" ry="2.1"/><ellipse cx="1561.9" cy="562.3" rx="2.4" ry="2.1"/><ellipse cx="67.8" cy="587.3" rx="2.4" ry="2.1"/><ellipse cx="96.0" cy="587.3" rx="2.4" ry="2.1"/><ellipse cx="124.2" cy="587.4" rx="2.4" ry="2.1"/><ellipse cx="152.4" cy="587.5" rx="2.4" ry="2.1"/><ellipse cx="180.6" cy="587.6" rx="2.4" ry="2.1"/><ellipse cx="208.8" cy="587.6" rx="2.4" ry="2.1"/><ellipse cx="236.9" cy="587.7" rx="2.4" ry="2.1"/><ellipse cx="265.1" cy="587.8" rx="2.4" ry="2.1"/><ellipse cx="293.3" cy="587.8" rx="2.4" ry="2.1"/><ellipse cx="321.5" cy="587.9" rx="2.4" ry="2.1"/><ellipse cx="349.7" cy="588.0" rx="2.4" ry="2.1"/><ellipse cx="377.9" cy="588.1" rx="2.4" ry="2.1"/><ellipse cx="406.1" cy="588.1" rx="2.4" ry="2.1"/><ellipse cx="434.3" cy="588.2" rx="2.4" ry="2.1"/><ellipse cx="462.5" cy="588.3" rx="2.4" ry="2.1"/><ellipse cx="490.7" cy="588.3" rx="2.4" ry="2.1"/><ellipse cx="518.8" cy="588.4" rx="2.4" ry="2.1"/><ellipse cx="547.0" cy="588.5" rx="2.4" ry="2.1"/><ellipse cx="575.2" cy="588.5" rx="2.4" ry="2.1"/><ellipse cx="603.4" cy="588.6" rx="2.4" ry="2.1"/><ellipse cx="631.6" cy="588.7" rx="2.4" ry="2.1"/><ellipse cx="659.8" cy="588.7" rx="2.4" ry="2.1"/><ellipse cx="688.0" cy="588.8" rx="2.4" ry="2.1"/><ellipse cx="716.2" cy="588.9" rx="2.4" ry="2.1"/><ellipse cx="744.4" cy="588.9" rx="2.4" ry="2.1"/><ellipse cx="772.5" cy="589.0" rx="2.4" ry="2.1"/><ellipse cx="800.7" cy="589.0" rx="2.4" ry="2.1"/><ellipse cx="828.9" cy="589.1" rx="2.4" ry="2.1"/><ellipse cx="857.1" cy="589.2" rx="2.4" ry="2.1"/><ellipse cx="885.3" cy="589.2" rx="2.4" ry="2.1"/><ellipse cx="913.5" cy="589.3" rx="2.4" ry="2.1"/><ellipse cx="941.7" cy="589.3" rx="2.4" ry="2.1"/><ellipse cx="969.9" cy="589.4" rx="2.4" ry="2.1"/><ellipse cx="998.1" cy="589.5" rx="2.4" ry="2.1"/><ellipse cx="1026.3" cy="589.5" rx="2.4" ry="2.1"/><ellipse cx="1054.5" cy="589.6" rx="2.4" ry="2.1"/><ellipse cx="1082.6" cy="589.6" rx="2.4" ry="2.1"/><ellipse cx="1110.8" cy="589.7" rx="2.4" ry="2.1"/><ellipse cx="1139.0" cy="589.7" rx="2.4" ry="2.1"/><ellipse cx="1167.2" cy="589.8" rx="2.4" ry="2.1"/><ellipse cx="1195.4" cy="589.8" rx="2.4" ry="2.1"/><ellipse cx="1223.6" cy="589.9" rx="2.4" ry="2.1"/><ellipse cx="1251.8" cy="589.9" rx="2.4" ry="2.1"/><ellipse cx="1280.0" cy="590.0" rx="2.4" ry="2.1"/><ellipse cx="1308.2" cy="590.0" rx="2.4" ry="2.1"/><ellipse cx="1336.3" cy="590.1" rx="2.4" ry="2.1"/><ellipse cx="1364.5" cy="590.1" rx="2.4" ry="2.1"/><ellipse cx="1392.7" cy="590.2" rx="2.4" ry="2.1"/><ellipse cx="1420.9" cy="590.2" rx="2.4" ry="2.1"/><ellipse cx="1449.1" cy="590.3" rx="2.4" ry="2.1"/><ellipse cx="1477.3" cy="590.3" rx="2.4" ry="2.1"/><ellipse cx="1505.5" cy="590.4" rx="2.4" ry="2.1"/><ellipse cx="1533.7" cy="590.4" rx="2.4" ry="2.1"/><ellipse cx="1561.9" cy="590.5" rx="2.4" ry="2.1"/><ellipse cx="67.8" cy="615.4" rx="2.4" ry="2.1"/><ellipse cx="96.0" cy="615.5" rx="2.4" ry="2.1"/><ellipse cx="124.2" cy="615.5" rx="2.4" ry="2.1"/><ellipse cx="152.4" cy="615.6" rx="2.4" ry="2.1"/><ellipse cx="180.6" cy="615.7" rx="2.4" ry="2.1"/><ellipse cx="208.8" cy="615.8" rx="2.4" ry="2.1"/><ellipse cx="236.9" cy="615.9" rx="2.4" ry="2.1"/><ellipse cx="265.1" cy="616.0" rx="2.4" ry="2.1"/><ellipse cx="293.3" cy="616.0" rx="2.4" ry="2.1"/><ellipse cx="321.5" cy="616.1" rx="2.4" ry="2.1"/><ellipse cx="349.7" cy="616.2" rx="2.4" ry="2.1"/><ellipse cx="377.9" cy="616.3" rx="2.4" ry="2.1"/><ellipse cx="406.1" cy="616.3" rx="2.4" ry="2.1"/><ellipse cx="434.3" cy="616.4" rx="2.4" ry="2.1"/><ellipse cx="462.5" cy="616.5" rx="2.4" ry="2.1"/><ellipse cx="490.7" cy="616.6" rx="2.4" ry="2.1"/><ellipse cx="518.8" cy="616.6" rx="2.4" ry="2.1"/><ellipse cx="547.0" cy="616.7" rx="2.4" ry="2.1"/><ellipse cx="575.2" cy="616.8" rx="2.4" ry="2.1"/><ellipse cx="603.4" cy="616.8" rx="2.4" ry="2.1"/><ellipse cx="631.6" cy="616.9" rx="2.4" ry="2.1"/><ellipse cx="659.8" cy="617.0" rx="2.4" ry="2.1"/><ellipse cx="688.0" cy="617.0" rx="2.4" ry="2.1"/><ellipse cx="716.2" cy="617.1" rx="2.4" ry="2.1"/><ellipse cx="744.4" cy="617.2" rx="2.4" ry="2.1"/><ellipse cx="772.5" cy="617.2" rx="2.4" ry="2.1"/><ellipse cx="800.7" cy="617.3" rx="2.4" ry="2.1"/><ellipse cx="828.9" cy="617.3" rx="2.4" ry="2.1"/><ellipse cx="857.1" cy="617.4" rx="2.4" ry="2.1"/><ellipse cx="885.3" cy="617.5" rx="2.4" ry="2.1"/><ellipse cx="913.5" cy="617.5" rx="2.4" ry="2.1"/><ellipse cx="941.7" cy="617.6" rx="2.4" ry="2.1"/><ellipse cx="969.9" cy="617.6" rx="2.4" ry="2.1"/><ellipse cx="998.1" cy="617.7" rx="2.4" ry="2.1"/><ellipse cx="1026.3" cy="617.7" rx="2.4" ry="2.1"/><ellipse cx="1054.5" cy="617.8" rx="2.4" ry="2.1"/><ellipse cx="1082.6" cy="617.8" rx="2.4" ry="2.1"/><ellipse cx="1110.8" cy="617.9" rx="2.4" ry="2.1"/><ellipse cx="1139.0" cy="617.9" rx="2.4" ry="2.1"/><ellipse cx="1167.2" cy="618.0" rx="2.4" ry="2.1"/><ellipse cx="1195.4" cy="618.0" rx="2.4" ry="2.1"/><ellipse cx="1223.6" cy="618.1" rx="2.4" ry="2.1"/><ellipse cx="1251.8" cy="618.1" rx="2.4" ry="2.1"/><ellipse cx="1280.0" cy="618.2" rx="2.4" ry="2.1"/><ellipse cx="1308.2" cy="618.2" rx="2.4" ry="2.1"/><ellipse cx="1336.3" cy="618.3" rx="2.4" ry="2.1"/><ellipse cx="1364.5" cy="618.3" rx="2.4" ry="2.1"/><ellipse cx="1392.7" cy="618.4" rx="2.4" ry="2.1"/><ellipse cx="1420.9" cy="618.4" rx="2.4" ry="2.1"/><ellipse cx="1449.1" cy="618.4" rx="2.4" ry="2.1"/><ellipse cx="1477.3" cy="618.5" rx="2.4" ry="2.1"/><ellipse cx="1505.5" cy="618.5" rx="2.4" ry="2.1"/><ellipse cx="1533.7" cy="618.6" rx="2.4" ry="2.1"/><ellipse cx="1561.9" cy="618.6" rx="2.4" ry="2.1"/><ellipse cx="67.8" cy="643.5" rx="2.4" ry="2.1"/><ellipse cx="96.0" cy="643.6" rx="2.4" ry="2.1"/><ellipse cx="124.2" cy="643.7" rx="2.4" ry="2.1"/><ellipse cx="152.4" cy="643.8" rx="2.4" ry="2.1"/><ellipse cx="180.6" cy="643.9" rx="2.4" ry="2.1"/><ellipse cx="208.8" cy="644.0" rx="2.4" ry="2.1"/><ellipse cx="236.9" cy="644.0" rx="2.4" ry="2.1"/><ellipse cx="265.1" cy="644.1" rx="2.4" ry="2.1"/><ellipse cx="293.3" cy="644.2" rx="2.4" ry="2.1"/><ellipse cx="321.5" cy="644.3" rx="2.4" ry="2.1"/><ellipse cx="349.7" cy="644.4" rx="2.4" ry="2.1"/><ellipse cx="377.9" cy="644.5" rx="2.4" ry="2.1"/><ellipse cx="406.1" cy="644.5" rx="2.4" ry="2.1"/><ellipse cx="434.3" cy="644.6" rx="2.4" ry="2.1"/><ellipse cx="462.5" cy="644.7" rx="2.4" ry="2.1"/><ellipse cx="490.7" cy="644.8" rx="2.4" ry="2.1"/><ellipse cx="518.8" cy="644.8" rx="2.4" ry="2.1"/><ellipse cx="547.0" cy="644.9" rx="2.4" ry="2.1"/><ellipse cx="575.2" cy="645.0" rx="2.4" ry="2.1"/><ellipse cx="603.4" cy="645.1" rx="2.4" ry="2.1"/><ellipse cx="631.6" cy="645.1" rx="2.4" ry="2.1"/><ellipse cx="659.8" cy="645.2" rx="2.4" ry="2.1"/><ellipse cx="688.0" cy="645.3" rx="2.4" ry="2.1"/><ellipse cx="716.2" cy="645.3" rx="2.4" ry="2.1"/><ellipse cx="744.4" cy="645.4" rx="2.4" ry="2.1"/><ellipse cx="772.5" cy="645.5" rx="2.4" ry="2.1"/><ellipse cx="800.7" cy="645.5" rx="2.4" ry="2.1"/><ellipse cx="828.9" cy="645.6" rx="2.4" ry="2.1"/><ellipse cx="857.1" cy="645.6" rx="2.4" ry="2.1"/><ellipse cx="885.3" cy="645.7" rx="2.4" ry="2.1"/><ellipse cx="913.5" cy="645.7" rx="2.4" ry="2.1"/><ellipse cx="941.7" cy="645.8" rx="2.4" ry="2.1"/><ellipse cx="969.9" cy="645.9" rx="2.4" ry="2.1"/><ellipse cx="998.1" cy="645.9" rx="2.4" ry="2.1"/><ellipse cx="1026.3" cy="646.0" rx="2.4" ry="2.1"/><ellipse cx="1054.5" cy="646.0" rx="2.4" ry="2.1"/><ellipse cx="1082.6" cy="646.1" rx="2.4" ry="2.1"/><ellipse cx="1110.8" cy="646.1" rx="2.4" ry="2.1"/><ellipse cx="1139.0" cy="646.2" rx="2.4" ry="2.1"/><ellipse cx="1167.2" cy="646.2" rx="2.4" ry="2.1"/><ellipse cx="1195.4" cy="646.3" rx="2.4" ry="2.1"/><ellipse cx="1223.6" cy="646.3" rx="2.4" ry="2.1"/><ellipse cx="1251.8" cy="646.3" rx="2.4" ry="2.1"/><ellipse cx="1280.0" cy="646.4" rx="2.4" ry="2.1"/><ellipse cx="1308.2" cy="646.4" rx="2.4" ry="2.1"/><ellipse cx="1336.3" cy="646.5" rx="2.4" ry="2.1"/><ellipse cx="1364.5" cy="646.5" rx="2.4" ry="2.1"/><ellipse cx="1392.7" cy="646.5" rx="2.4" ry="2.1"/><ellipse cx="1420.9" cy="646.6" rx="2.4" ry="2.1"/><ellipse cx="1449.1" cy="646.6" rx="2.4" ry="2.1"/><ellipse cx="1477.3" cy="646.6" rx="2.4" ry="2.1"/><ellipse cx="1505.5" cy="646.7" rx="2.4" ry="2.1"/><ellipse cx="1533.7" cy="646.7" rx="2.4" ry="2.1"/><ellipse cx="1561.9" cy="646.7" rx="2.4" ry="2.1"/><ellipse cx="67.8" cy="671.6" rx="2.4" ry="2.1"/><ellipse cx="96.0" cy="671.7" rx="2.4" ry="2.1"/><ellipse cx="124.2" cy="671.8" rx="2.4" ry="2.1"/><ellipse cx="152.4" cy="671.9" rx="2.4" ry="2.1"/><ellipse cx="180.6" cy="672.0" rx="2.4" ry="2.1"/><ellipse cx="208.8" cy="672.1" rx="2.4" ry="2.1"/><ellipse cx="236.9" cy="672.2" rx="2.4" ry="2.1"/><ellipse cx="265.1" cy="672.3" rx="2.4" ry="2.1"/><ellipse cx="293.3" cy="672.4" rx="2.4" ry="2.1"/><ellipse cx="321.5" cy="672.5" rx="2.4" ry="2.1"/><ellipse cx="349.7" cy="672.6" rx="2.4" ry="2.1"/><ellipse cx="377.9" cy="672.7" rx="2.4" ry="2.1"/><ellipse cx="406.1" cy="672.7" rx="2.4" ry="2.1"/><ellipse cx="434.3" cy="672.8" rx="2.4" ry="2.1"/><ellipse cx="462.5" cy="672.9" rx="2.4" ry="2.1"/><ellipse cx="490.7" cy="673.0" rx="2.4" ry="2.1"/><ellipse cx="518.8" cy="673.1" rx="2.4" ry="2.1"/><ellipse cx="547.0" cy="673.1" rx="2.4" ry="2.1"/><ellipse cx="575.2" cy="673.2" rx="2.4" ry="2.1"/><ellipse cx="603.4" cy="673.3" rx="2.4" ry="2.1"/><ellipse cx="631.6" cy="673.4" rx="2.4" ry="2.1"/><ellipse cx="659.8" cy="673.4" rx="2.4" ry="2.1"/><ellipse cx="688.0" cy="673.5" rx="2.4" ry="2.1"/><ellipse cx="716.2" cy="673.6" rx="2.4" ry="2.1"/><ellipse cx="744.4" cy="673.6" rx="2.4" ry="2.1"/><ellipse cx="772.5" cy="673.7" rx="2.4" ry="2.1"/><ellipse cx="800.7" cy="673.8" rx="2.4" ry="2.1"/><ellipse cx="828.9" cy="673.8" rx="2.4" ry="2.1"/><ellipse cx="857.1" cy="673.9" rx="2.4" ry="2.1"/><ellipse cx="885.3" cy="673.9" rx="2.4" ry="2.1"/><ellipse cx="913.5" cy="674.0" rx="2.4" ry="2.1"/><ellipse cx="941.7" cy="674.0" rx="2.4" ry="2.1"/><ellipse cx="969.9" cy="674.1" rx="2.4" ry="2.1"/><ellipse cx="998.1" cy="674.1" rx="2.4" ry="2.1"/><ellipse cx="1026.3" cy="674.2" rx="2.4" ry="2.1"/><ellipse cx="1054.5" cy="674.2" rx="2.4" ry="2.1"/><ellipse cx="1082.6" cy="674.3" rx="2.4" ry="2.1"/><ellipse cx="1110.8" cy="674.3" rx="2.4" ry="2.1"/><ellipse cx="1139.0" cy="674.4" rx="2.4" ry="2.1"/><ellipse cx="1167.2" cy="674.4" rx="2.4" ry="2.1"/><ellipse cx="1195.4" cy="674.5" rx="2.4" ry="2.1"/><ellipse cx="1223.6" cy="674.5" rx="2.4" ry="2.1"/><ellipse cx="1251.8" cy="674.5" rx="2.4" ry="2.1"/><ellipse cx="1280.0" cy="674.6" rx="2.4" ry="2.1"/><ellipse cx="1308.2" cy="674.6" rx="2.4" ry="2.1"/><ellipse cx="1336.3" cy="674.6" rx="2.4" ry="2.1"/><ellipse cx="1364.5" cy="674.7" rx="2.4" ry="2.1"/><ellipse cx="1392.7" cy="674.7" rx="2.4" ry="2.1"/><ellipse cx="1420.9" cy="674.7" rx="2.4" ry="2.1"/><ellipse cx="1449.1" cy="674.8" rx="2.4" ry="2.1"/><ellipse cx="1477.3" cy="674.8" rx="2.4" ry="2.1"/><ellipse cx="1505.5" cy="674.8" rx="2.4" ry="2.1"/><ellipse cx="1533.7" cy="674.8" rx="2.4" ry="2.1"/><ellipse cx="1561.9" cy="674.8" rx="2.4" ry="2.1"/><ellipse cx="67.8" cy="699.8" rx="2.4" ry="2.1"/><ellipse cx="96.0" cy="699.9" rx="2.4" ry="2.1"/><ellipse cx="124.2" cy="700.0" rx="2.4" ry="2.1"/><ellipse cx="152.4" cy="700.1" rx="2.4" ry="2.1"/><ellipse cx="180.6" cy="700.2" rx="2.4" ry="2.1"/><ellipse cx="208.8" cy="700.3" rx="2.4" ry="2.1"/><ellipse cx="236.9" cy="700.4" rx="2.4" ry="2.1"/><ellipse cx="265.1" cy="700.5" rx="2.4" ry="2.1"/><ellipse cx="293.3" cy="700.6" rx="2.4" ry="2.1"/><ellipse cx="321.5" cy="700.7" rx="2.4" ry="2.1"/><ellipse cx="349.7" cy="700.8" rx="2.4" ry="2.1"/><ellipse cx="377.9" cy="700.9" rx="2.4" ry="2.1"/><ellipse cx="406.1" cy="700.9" rx="2.4" ry="2.1"/><ellipse cx="434.3" cy="701.0" rx="2.4" ry="2.1"/><ellipse cx="462.5" cy="701.1" rx="2.4" ry="2.1"/><ellipse cx="490.7" cy="701.2" rx="2.4" ry="2.1"/><ellipse cx="518.8" cy="701.3" rx="2.4" ry="2.1"/><ellipse cx="547.0" cy="701.4" rx="2.4" ry="2.1"/><ellipse cx="575.2" cy="701.4" rx="2.4" ry="2.1"/><ellipse cx="603.4" cy="701.5" rx="2.4" ry="2.1"/><ellipse cx="631.6" cy="701.6" rx="2.4" ry="2.1"/><ellipse cx="659.8" cy="701.7" rx="2.4" ry="2.1"/><ellipse cx="688.0" cy="701.7" rx="2.4" ry="2.1"/><ellipse cx="716.2" cy="701.8" rx="2.4" ry="2.1"/><ellipse cx="744.4" cy="701.9" rx="2.4" ry="2.1"/><ellipse cx="772.5" cy="701.9" rx="2.4" ry="2.1"/><ellipse cx="800.7" cy="702.0" rx="2.4" ry="2.1"/><ellipse cx="828.9" cy="702.0" rx="2.4" ry="2.1"/><ellipse cx="857.1" cy="702.1" rx="2.4" ry="2.1"/><ellipse cx="885.3" cy="702.2" rx="2.4" ry="2.1"/><ellipse cx="913.5" cy="702.2" rx="2.4" ry="2.1"/><ellipse cx="941.7" cy="702.3" rx="2.4" ry="2.1"/><ellipse cx="969.9" cy="702.3" rx="2.4" ry="2.1"/><ellipse cx="998.1" cy="702.4" rx="2.4" ry="2.1"/><ellipse cx="1026.3" cy="702.4" rx="2.4" ry="2.1"/><ellipse cx="1054.5" cy="702.5" rx="2.4" ry="2.1"/><ellipse cx="1082.6" cy="702.5" rx="2.4" ry="2.1"/><ellipse cx="1110.8" cy="702.6" rx="2.4" ry="2.1"/><ellipse cx="1139.0" cy="702.6" rx="2.4" ry="2.1"/><ellipse cx="1167.2" cy="702.6" rx="2.4" ry="2.1"/><ellipse cx="1195.4" cy="702.7" rx="2.4" ry="2.1"/><ellipse cx="1223.6" cy="702.7" rx="2.4" ry="2.1"/><ellipse cx="1251.8" cy="702.7" rx="2.4" ry="2.1"/><ellipse cx="1280.0" cy="702.8" rx="2.4" ry="2.1"/><ellipse cx="1308.2" cy="702.8" rx="2.4" ry="2.1"/><ellipse cx="1336.3" cy="702.8" rx="2.4" ry="2.1"/><ellipse cx="1364.5" cy="702.9" rx="2.4" ry="2.1"/><ellipse cx="1392.7" cy="702.9" rx="2.4" ry="2.1"/><ellipse cx="1420.9" cy="702.9" rx="2.4" ry="2.1"/><ellipse cx="1449.1" cy="702.9" rx="2.4" ry="2.1"/><ellipse cx="1477.3" cy="702.9" rx="2.4" ry="2.1"/><ellipse cx="1505.5" cy="703.0" rx="2.4" ry="2.1"/><ellipse cx="1533.7" cy="703.0" rx="2.4" ry="2.1"/><ellipse cx="1561.9" cy="703.0" rx="2.4" ry="2.1"/></g>
<g fill="#fff"><rect x="276" y="529" width="1" height="1"/><rect x="357" y="527" width="1" height="1"/><rect x="345" y="556" width="1" height="2"/><rect x="81" y="604" width="1" height="1"/><rect x="97" y="598" width="1" height="1"/><rect x="100" y="597" width="1" height="1"/><rect x="343" y="603" width="1" height="1"/><rect x="116" y="629" width="1" height="1"/><rect x="62" y="658" width="1" height="1"/><rect x="128" y="681" width="1" height="1"/><rect x="139" y="699" width="1" height="1"/><circle cx="49.0" cy="687.0" r="2.0" fill="url(#blob)"/><rect x="48" y="686" width="3" height="3"/><rect x="417" y="653" width="1" height="1"/><rect x="418" y="658" width="1" height="1"/><rect x="419" y="663" width="1" height="1"/><rect x="430" y="666" width="1" height="1"/><rect x="436" y="687" width="1" height="1"/><rect x="398" y="691" width="1" height="1"/><rect x="451" y="532" width="1" height="1"/><rect x="521" y="570" width="1" height="1"/><rect x="568" y="581" width="1" height="1"/><rect x="628" y="538" width="1" height="1"/><rect x="691" y="557" width="1" height="1"/><circle cx="605.3" cy="639.4" r="2.0" fill="url(#blob)"/><rect x="604" y="638" width="3" height="3"/><rect x="876" y="562" width="1" height="1"/><rect x="844" y="576" width="1" height="1"/><rect x="856" y="575" width="1" height="1"/><rect x="904" y="569" width="1" height="1"/><rect x="895" y="584" width="1" height="2"/><rect x="917" y="593" width="1" height="1"/><rect x="925" y="605" width="1" height="1"/><rect x="936" y="586" width="1" height="1"/><rect x="940" y="580" width="1" height="1"/><rect x="946" y="582" width="1" height="1"/><rect x="968" y="553" width="1" height="1"/><rect x="980" y="567" width="1" height="1"/><rect x="969" y="583" width="1" height="1"/><rect x="982" y="531" width="1" height="1"/><rect x="997" y="573" width="1" height="1"/><rect x="1091" y="584" width="1" height="1"/><rect x="1138" y="557" width="1" height="1"/><rect x="891" y="626" width="1" height="1"/><rect x="901" y="644" width="2" height="1"/><rect x="897" y="652" width="1" height="2"/><rect x="851" y="648" width="1" height="1"/><rect x="1072" y="636" width="1" height="1"/><rect x="1079" y="653" width="5" height="1"/><rect x="1080" y="652" width="2" height="1"/><rect x="1082" y="654" width="1" height="2"/><rect x="1197" y="643" width="1" height="1"/><rect x="1281" y="525" width="1" height="1"/><rect x="1342" y="524" width="1" height="1"/><rect x="1327" y="543" width="1" height="1"/><rect x="1327" y="551" width="1" height="1"/><rect x="1325" y="560" width="1" height="1"/><rect x="1385" y="557" width="1" height="1"/><rect x="1460" y="595" width="2" height="2"/><rect x="1514" y="560" width="1" height="1"/><rect x="1589" y="534" width="1" height="1"/><rect x="1228" y="634" width="1" height="2"/><rect x="1262" y="637" width="1" height="1"/><rect x="1286" y="645" width="1" height="1"/><rect x="1319" y="628" width="1" height="1"/><rect x="1337" y="641" width="1" height="1"/><rect x="1321" y="648" width="1" height="1"/><rect x="1338" y="655" width="1" height="1"/><rect x="1379" y="660" width="1" height="1"/><rect x="1427" y="619" width="1" height="1"/><rect x="1433" y="681" width="1" height="1"/><rect x="1405" y="705" width="1" height="1"/><rect x="1219" y="693" width="1" height="1"/><rect x="1477" y="653" width="1" height="1"/><rect x="1491" y="706" width="1" height="1"/><rect x="1555" y="640" width="1" height="1"/><rect x="1545" y="676" width="1" height="1"/><rect x="1590" y="668" width="1" height="1"/></g>
<g fill="#fff"><rect x="49.9" y="523.5" width="3.1" height="186.9"/><rect x="108.9" y="523.5" width="3.1" height="186.9"/><rect x="168.0" y="523.5" width="6.1" height="186.9"/><rect x="232.0" y="523.5" width="3.1" height="186.9"/><rect x="289.9" y="523.5" width="3.1" height="186.9"/><rect x="349.0" y="523.5" width="3.0" height="186.9"/><rect x="407.0" y="523.5" width="4.0" height="186.9"/><rect x="466.1" y="523.5" width="2.9" height="186.9"/><rect x="524.8" y="523.5" width="3.3" height="186.9"/><rect x="583.1" y="523.5" width="3.1" height="186.9"/><rect x="641.9" y="523.5" width="7.1" height="186.9"/><rect x="706.1" y="523.5" width="3.0" height="186.9"/><rect x="765.2" y="523.5" width="2.9" height="186.9"/><rect x="823.9" y="523.5" width="2.1" height="186.9"/><rect x="881.2" y="523.5" width="3.8" height="186.9"/><rect x="941.0" y="523.5" width="3.2" height="186.9"/><rect x="999.0" y="523.5" width="3.1" height="186.9"/><rect x="1058.0" y="523.5" width="3.1" height="186.9"/><rect x="1116.8" y="523.5" width="6.3" height="186.9"/><rect x="1181.1" y="523.5" width="3.1" height="186.9"/><rect x="1239.1" y="523.5" width="3.0" height="186.9"/><rect x="1297.9" y="523.5" width="3.1" height="186.9"/><rect x="1356.1" y="523.5" width="3.9" height="186.9"/><rect x="1415.1" y="523.5" width="3.0" height="186.9"/><rect x="1474.0" y="523.5" width="3.1" height="186.9"/><rect x="1531.9" y="523.5" width="3.2" height="186.9"/><rect x="1591.0" y="523.5" width="5.5" height="186.9"/><rect x="46.5" y="613.8" width="1550.0" height="2.3"/></g>
<rect x="46.5" y="523.5" width="1550.0" height="186.9" fill="none" stroke="#000" stroke-width="1.11"/>
<path d="M209.50 710.4v4.86M401.66 710.4v4.86M593.82 710.4v4.86M785.98 710.4v4.86M978.14 710.4v4.86M1170.30 710.4v4.86M1362.46 710.4v4.86M1554.62 710.4v4.86M46.5 524.40h-4.86M46.5 572.44h-4.86M46.5 620.48h-4.86M46.5 668.52h-4.86" stroke="#000" stroke-width="1.11" fill="none"/>
<g font-family="Liberation Sans, sans-serif" fill="#000" stroke="#000" stroke-width="0.3"><text x="193.00" y="732.00" font-size="14.10" textLength="32.53" lengthAdjust="spacingAndGlyphs">3000</text><text x="385.00" y="732.00" font-size="14.10" textLength="32.53" lengthAdjust="spacingAndGlyphs">3200</text><text x="577.00" y="732.00" font-size="14.10" textLength="32.53" lengthAdjust="spacingAndGlyphs">3400</text><text x="769.00" y="732.00" font-size="14.10" textLength="32.53" lengthAdjust="spacingAndGlyphs">3600</text><text x="962.00" y="732.00" font-size="14.10" textLength="32.53" lengthAdjust="spacingAndGlyphs">3800</text><text x="1154.00" y="732.00" font-size="14.10" textLength="32.53" lengthAdjust="spacingAndGlyphs">4000</text><text x="1347.00" y="732.00" font-size="14.10" textLength="32.53" lengthAdjust="spacingAndGlyphs">4200</text><text x="1539.00" y="732.00" font-size="14.10" textLength="32.53" lengthAdjust="spacingAndGlyphs">4400</text><text x="30.00" y="530.00" font-size="14.10" textLength="7.56" lengthAdjust="spacingAndGlyphs">0</text><text x="19.50" y="578.00" font-size="14.10" textLength="15.32" lengthAdjust="spacingAndGlyphs">50</text><text x="12.50" y="626.00" font-size="14.10" textLength="23.81" lengthAdjust="spacingAndGlyphs">100</text><text x="12.50" y="674.00" font-size="14.10" textLength="23.81" lengthAdjust="spacingAndGlyphs">150</text></g>
<text x="801.30" y="513.60" textLength="38.29" lengthAdjust="spacingAndGlyphs" font-family="Liberation Sans, sans-serif" font-size="17.70" fill="#000" stroke="#000" stroke-width="0.1">right</text>
</svg>
</body></html>
